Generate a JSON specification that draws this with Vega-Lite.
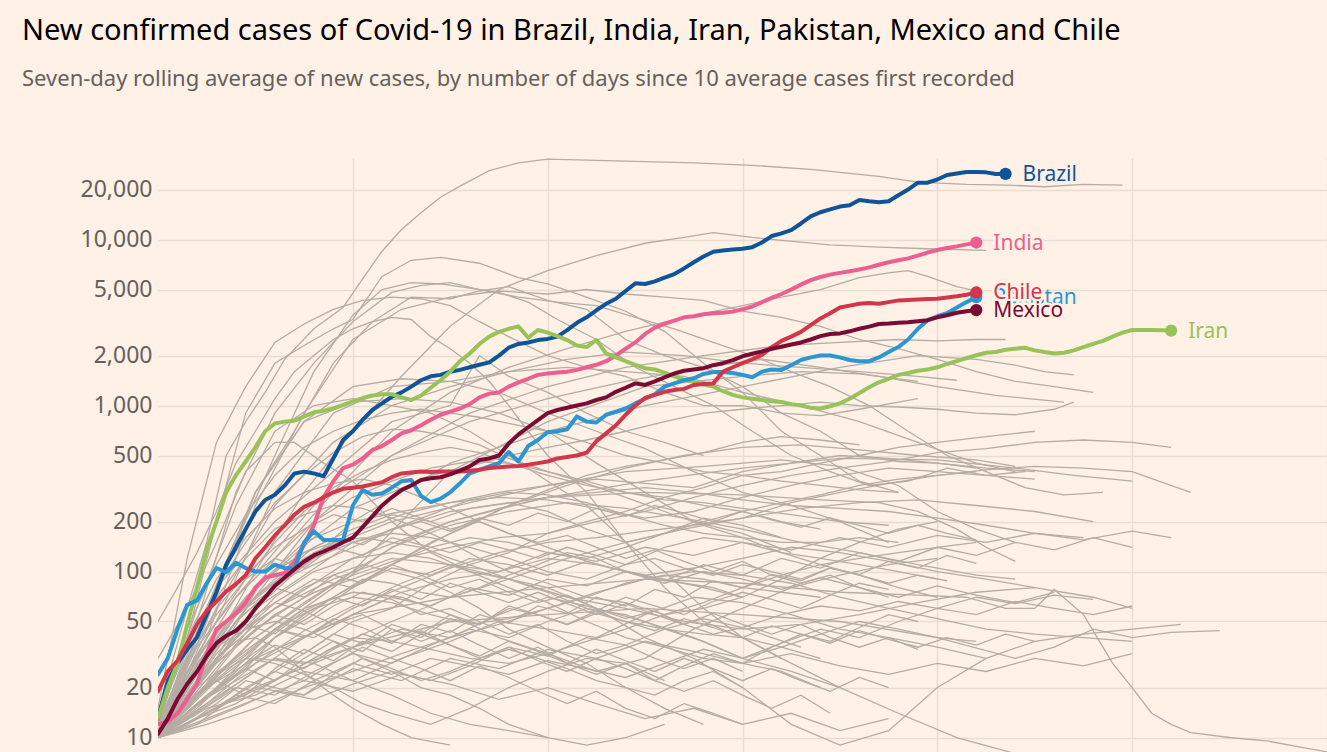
{
"$schema": "https://vega.github.io/schema/vega-lite/v6.json",
"width": 1169, "height": 594,
"autosize": {"type": "none"},
"padding": {"left": 158, "top": 158, "right": 0, "bottom": 0},
"background": "#fff1e5",
"title": {"text": "New confirmed cases of Covid-19 in Brazil, India, Iran, Pakistan, Mexico and Chile", "subtitle": "Seven-day rolling average of new cases, by number of days since 10 average cases first recorded", "anchor": "start", "frame": "group", "dx": -136, "offset": 68, "font": "Noto Sans", "fontSize": 29, "fontWeight": "normal", "color": "#000000", "subtitleFont": "Noto Sans", "subtitleFontSize": 22, "subtitleColor": "#66605c", "subtitlePadding": 23},
"config": {"view": {"stroke": null}, "axisY": {"domain": false, "ticks": false, "labelFont": "Noto Sans", "labelFontSize": 23, "labelColor": "#66605c", "labelPadding": 6, "gridColor": "#e9ddd1", "gridWidth": 1.5, "labelOverlap": false}, "axisX": {"domain": false, "ticks": false, "labels": false, "gridColor": "#e9ddd1", "gridWidth": 1.5}},
"data": {"values": [
{"c":"Brazil","d":0,"v":13},{"c":"Brazil","d":1,"v":22},{"c":"Brazil","d":2,"v":28},{"c":"Brazil","d":3,"v":34},{"c":"Brazil","d":4,"v":40},{"c":"Brazil","d":5,"v":55},{"c":"Brazil","d":6,"v":75},{"c":"Brazil","d":7,"v":110},{"c":"Brazil","d":8,"v":140},{"c":"Brazil","d":9,"v":180},{"c":"Brazil","d":10,"v":230},{"c":"Brazil","d":11,"v":270},{"c":"Brazil","d":12,"v":290},{"c":"Brazil","d":13,"v":330},{"c":"Brazil","d":14,"v":390},{"c":"Brazil","d":15,"v":400},{"c":"Brazil","d":16,"v":390},{"c":"Brazil","d":17,"v":375},{"c":"Brazil","d":18,"v":480},{"c":"Brazil","d":19,"v":620},{"c":"Brazil","d":20,"v":700},{"c":"Brazil","d":21,"v":820},{"c":"Brazil","d":22,"v":940},{"c":"Brazil","d":23,"v":1030},{"c":"Brazil","d":24,"v":1130},{"c":"Brazil","d":25,"v":1200},{"c":"Brazil","d":26,"v":1300},{"c":"Brazil","d":27,"v":1420},{"c":"Brazil","d":28,"v":1500},{"c":"Brazil","d":29,"v":1530},{"c":"Brazil","d":30,"v":1600},{"c":"Brazil","d":31,"v":1640},{"c":"Brazil","d":32,"v":1700},{"c":"Brazil","d":33,"v":1760},{"c":"Brazil","d":34,"v":1820},{"c":"Brazil","d":35,"v":2000},{"c":"Brazil","d":36,"v":2230},{"c":"Brazil","d":37,"v":2350},{"c":"Brazil","d":38,"v":2400},{"c":"Brazil","d":39,"v":2480},{"c":"Brazil","d":40,"v":2520},{"c":"Brazil","d":41,"v":2600},{"c":"Brazil","d":42,"v":2850},{"c":"Brazil","d":43,"v":3150},{"c":"Brazil","d":44,"v":3400},{"c":"Brazil","d":45,"v":3750},{"c":"Brazil","d":46,"v":4100},{"c":"Brazil","d":47,"v":4400},{"c":"Brazil","d":48,"v":4900},{"c":"Brazil","d":49,"v":5450},{"c":"Brazil","d":50,"v":5400},{"c":"Brazil","d":51,"v":5600},{"c":"Brazil","d":52,"v":5900},{"c":"Brazil","d":53,"v":6200},{"c":"Brazil","d":54,"v":6700},{"c":"Brazil","d":55,"v":7300},{"c":"Brazil","d":56,"v":7900},{"c":"Brazil","d":57,"v":8450},{"c":"Brazil","d":58,"v":8600},{"c":"Brazil","d":59,"v":8700},{"c":"Brazil","d":60,"v":8800},{"c":"Brazil","d":61,"v":9000},{"c":"Brazil","d":62,"v":9600},{"c":"Brazil","d":63,"v":10500},{"c":"Brazil","d":64,"v":10900},{"c":"Brazil","d":65,"v":11400},{"c":"Brazil","d":66,"v":12500},{"c":"Brazil","d":67,"v":13800},{"c":"Brazil","d":68,"v":14600},{"c":"Brazil","d":69,"v":15200},{"c":"Brazil","d":70,"v":15800},{"c":"Brazil","d":71,"v":16100},{"c":"Brazil","d":72,"v":17300},{"c":"Brazil","d":73,"v":17000},{"c":"Brazil","d":74,"v":16800},{"c":"Brazil","d":75,"v":17000},{"c":"Brazil","d":76,"v":18500},{"c":"Brazil","d":77,"v":20000},{"c":"Brazil","d":78,"v":22000},{"c":"Brazil","d":79,"v":22000},{"c":"Brazil","d":80,"v":23000},{"c":"Brazil","d":81,"v":24500},{"c":"Brazil","d":82,"v":25000},{"c":"Brazil","d":83,"v":25500},{"c":"Brazil","d":84,"v":25500},{"c":"Brazil","d":85,"v":25400},{"c":"Brazil","d":86,"v":24800},{"c":"Brazil","d":87,"v":24900},
{"c":"India","d":0,"v":12},{"c":"India","d":1,"v":12.5},{"c":"India","d":2,"v":14},{"c":"India","d":3,"v":17},{"c":"India","d":4,"v":21},{"c":"India","d":5,"v":32},{"c":"India","d":6,"v":45},{"c":"India","d":7,"v":50},{"c":"India","d":8,"v":56},{"c":"India","d":9,"v":65},{"c":"India","d":10,"v":80},{"c":"India","d":11,"v":92},{"c":"India","d":12,"v":95},{"c":"India","d":13,"v":98},{"c":"India","d":14,"v":115},{"c":"India","d":15,"v":145},{"c":"India","d":16,"v":190},{"c":"India","d":17,"v":280},{"c":"India","d":18,"v":350},{"c":"India","d":19,"v":420},{"c":"India","d":20,"v":440},{"c":"India","d":21,"v":480},{"c":"India","d":22,"v":540},{"c":"India","d":23,"v":570},{"c":"India","d":24,"v":620},{"c":"India","d":25,"v":680},{"c":"India","d":26,"v":710},{"c":"India","d":27,"v":760},{"c":"India","d":28,"v":820},{"c":"India","d":29,"v":880},{"c":"India","d":30,"v":920},{"c":"India","d":31,"v":960},{"c":"India","d":32,"v":1020},{"c":"India","d":33,"v":1120},{"c":"India","d":34,"v":1180},{"c":"India","d":35,"v":1200},{"c":"India","d":36,"v":1300},{"c":"India","d":37,"v":1380},{"c":"India","d":38,"v":1450},{"c":"India","d":39,"v":1530},{"c":"India","d":40,"v":1560},{"c":"India","d":41,"v":1580},{"c":"India","d":42,"v":1600},{"c":"India","d":43,"v":1640},{"c":"India","d":44,"v":1700},{"c":"India","d":45,"v":1760},{"c":"India","d":46,"v":1850},{"c":"India","d":47,"v":2000},{"c":"India","d":48,"v":2200},{"c":"India","d":49,"v":2400},{"c":"India","d":50,"v":2700},{"c":"India","d":51,"v":2950},{"c":"India","d":52,"v":3100},{"c":"India","d":53,"v":3250},{"c":"India","d":54,"v":3400},{"c":"India","d":55,"v":3450},{"c":"India","d":56,"v":3550},{"c":"India","d":57,"v":3600},{"c":"India","d":58,"v":3620},{"c":"India","d":59,"v":3680},{"c":"India","d":60,"v":3800},{"c":"India","d":61,"v":3950},{"c":"India","d":62,"v":4200},{"c":"India","d":63,"v":4450},{"c":"India","d":64,"v":4700},{"c":"India","d":65,"v":5000},{"c":"India","d":66,"v":5350},{"c":"India","d":67,"v":5700},{"c":"India","d":68,"v":5950},{"c":"India","d":69,"v":6150},{"c":"India","d":70,"v":6300},{"c":"India","d":71,"v":6450},{"c":"India","d":72,"v":6600},{"c":"India","d":73,"v":6800},{"c":"India","d":74,"v":7050},{"c":"India","d":75,"v":7300},{"c":"India","d":76,"v":7500},{"c":"India","d":77,"v":7700},{"c":"India","d":78,"v":8000},{"c":"India","d":79,"v":8350},{"c":"India","d":80,"v":8650},{"c":"India","d":81,"v":8900},{"c":"India","d":82,"v":9100},{"c":"India","d":83,"v":9350},{"c":"India","d":84,"v":9600},
{"c":"Iran","d":0,"v":13},{"c":"Iran","d":1,"v":20},{"c":"Iran","d":2,"v":28},{"c":"Iran","d":3,"v":48},{"c":"Iran","d":4,"v":80},{"c":"Iran","d":5,"v":135},{"c":"Iran","d":6,"v":200},{"c":"Iran","d":7,"v":300},{"c":"Iran","d":8,"v":380},{"c":"Iran","d":9,"v":460},{"c":"Iran","d":10,"v":560},{"c":"Iran","d":11,"v":700},{"c":"Iran","d":12,"v":780},{"c":"Iran","d":13,"v":800},{"c":"Iran","d":14,"v":810},{"c":"Iran","d":15,"v":860},{"c":"Iran","d":16,"v":910},{"c":"Iran","d":17,"v":930},{"c":"Iran","d":18,"v":960},{"c":"Iran","d":19,"v":1010},{"c":"Iran","d":20,"v":1060},{"c":"Iran","d":21,"v":1110},{"c":"Iran","d":22,"v":1150},{"c":"Iran","d":23,"v":1170},{"c":"Iran","d":24,"v":1170},{"c":"Iran","d":25,"v":1120},{"c":"Iran","d":26,"v":1080},{"c":"Iran","d":27,"v":1150},{"c":"Iran","d":28,"v":1280},{"c":"Iran","d":29,"v":1420},{"c":"Iran","d":30,"v":1600},{"c":"Iran","d":31,"v":1850},{"c":"Iran","d":32,"v":2060},{"c":"Iran","d":33,"v":2350},{"c":"Iran","d":34,"v":2600},{"c":"Iran","d":35,"v":2780},{"c":"Iran","d":36,"v":2900},{"c":"Iran","d":37,"v":3000},{"c":"Iran","d":38,"v":2560},{"c":"Iran","d":39,"v":2850},{"c":"Iran","d":40,"v":2750},{"c":"Iran","d":41,"v":2620},{"c":"Iran","d":42,"v":2480},{"c":"Iran","d":43,"v":2300},{"c":"Iran","d":44,"v":2250},{"c":"Iran","d":45,"v":2480},{"c":"Iran","d":46,"v":2060},{"c":"Iran","d":47,"v":1950},{"c":"Iran","d":48,"v":1850},{"c":"Iran","d":49,"v":1760},{"c":"Iran","d":50,"v":1680},{"c":"Iran","d":51,"v":1650},{"c":"Iran","d":52,"v":1580},{"c":"Iran","d":53,"v":1500},{"c":"Iran","d":54,"v":1430},{"c":"Iran","d":55,"v":1390},{"c":"Iran","d":56,"v":1340},{"c":"Iran","d":57,"v":1300},{"c":"Iran","d":58,"v":1220},{"c":"Iran","d":59,"v":1160},{"c":"Iran","d":60,"v":1120},{"c":"Iran","d":61,"v":1100},{"c":"Iran","d":62,"v":1080},{"c":"Iran","d":63,"v":1060},{"c":"Iran","d":64,"v":1050},{"c":"Iran","d":65,"v":1020},{"c":"Iran","d":66,"v":1000},{"c":"Iran","d":67,"v":970},{"c":"Iran","d":68,"v":960},{"c":"Iran","d":69,"v":990},{"c":"Iran","d":70,"v":1030},{"c":"Iran","d":71,"v":1100},{"c":"Iran","d":72,"v":1190},{"c":"Iran","d":73,"v":1290},{"c":"Iran","d":74,"v":1380},{"c":"Iran","d":75,"v":1450},{"c":"Iran","d":76,"v":1530},{"c":"Iran","d":77,"v":1570},{"c":"Iran","d":78,"v":1620},{"c":"Iran","d":79,"v":1650},{"c":"Iran","d":80,"v":1700},{"c":"Iran","d":81,"v":1780},{"c":"Iran","d":82,"v":1850},{"c":"Iran","d":83,"v":1930},{"c":"Iran","d":84,"v":2010},{"c":"Iran","d":85,"v":2080},{"c":"Iran","d":86,"v":2100},{"c":"Iran","d":87,"v":2170},{"c":"Iran","d":88,"v":2200},{"c":"Iran","d":89,"v":2230},{"c":"Iran","d":90,"v":2150},{"c":"Iran","d":91,"v":2100},{"c":"Iran","d":92,"v":2060},{"c":"Iran","d":93,"v":2080},{"c":"Iran","d":94,"v":2150},{"c":"Iran","d":95,"v":2250},{"c":"Iran","d":96,"v":2350},{"c":"Iran","d":97,"v":2450},{"c":"Iran","d":98,"v":2600},{"c":"Iran","d":99,"v":2750},{"c":"Iran","d":100,"v":2850},{"c":"Iran","d":101,"v":2850},{"c":"Iran","d":102,"v":2850},{"c":"Iran","d":103,"v":2840},{"c":"Iran","d":104,"v":2830},
{"c":"Pakistan","d":0,"v":24},{"c":"Pakistan","d":1,"v":30},{"c":"Pakistan","d":2,"v":45},{"c":"Pakistan","d":3,"v":63},{"c":"Pakistan","d":4,"v":67},{"c":"Pakistan","d":5,"v":85},{"c":"Pakistan","d":6,"v":105},{"c":"Pakistan","d":7,"v":99},{"c":"Pakistan","d":8,"v":113},{"c":"Pakistan","d":9,"v":105},{"c":"Pakistan","d":10,"v":100},{"c":"Pakistan","d":11,"v":100},{"c":"Pakistan","d":12,"v":110},{"c":"Pakistan","d":13,"v":105},{"c":"Pakistan","d":14,"v":104},{"c":"Pakistan","d":15,"v":150},{"c":"Pakistan","d":16,"v":175},{"c":"Pakistan","d":17,"v":155},{"c":"Pakistan","d":18,"v":155},{"c":"Pakistan","d":19,"v":155},{"c":"Pakistan","d":20,"v":250},{"c":"Pakistan","d":21,"v":310},{"c":"Pakistan","d":22,"v":290},{"c":"Pakistan","d":23,"v":295},{"c":"Pakistan","d":24,"v":320},{"c":"Pakistan","d":25,"v":350},{"c":"Pakistan","d":26,"v":356},{"c":"Pakistan","d":27,"v":285},{"c":"Pakistan","d":28,"v":262},{"c":"Pakistan","d":29,"v":275},{"c":"Pakistan","d":30,"v":300},{"c":"Pakistan","d":31,"v":340},{"c":"Pakistan","d":32,"v":390},{"c":"Pakistan","d":33,"v":410},{"c":"Pakistan","d":34,"v":430},{"c":"Pakistan","d":35,"v":450},{"c":"Pakistan","d":36,"v":525},{"c":"Pakistan","d":37,"v":460},{"c":"Pakistan","d":38,"v":570},{"c":"Pakistan","d":39,"v":620},{"c":"Pakistan","d":40,"v":690},{"c":"Pakistan","d":41,"v":700},{"c":"Pakistan","d":42,"v":720},{"c":"Pakistan","d":43,"v":860},{"c":"Pakistan","d":44,"v":800},{"c":"Pakistan","d":45,"v":790},{"c":"Pakistan","d":46,"v":880},{"c":"Pakistan","d":47,"v":920},{"c":"Pakistan","d":48,"v":960},{"c":"Pakistan","d":49,"v":1030},{"c":"Pakistan","d":50,"v":1100},{"c":"Pakistan","d":51,"v":1170},{"c":"Pakistan","d":52,"v":1300},{"c":"Pakistan","d":53,"v":1360},{"c":"Pakistan","d":54,"v":1420},{"c":"Pakistan","d":55,"v":1460},{"c":"Pakistan","d":56,"v":1550},{"c":"Pakistan","d":57,"v":1590},{"c":"Pakistan","d":58,"v":1590},{"c":"Pakistan","d":59,"v":1570},{"c":"Pakistan","d":60,"v":1530},{"c":"Pakistan","d":61,"v":1480},{"c":"Pakistan","d":62,"v":1600},{"c":"Pakistan","d":63,"v":1650},{"c":"Pakistan","d":64,"v":1640},{"c":"Pakistan","d":65,"v":1750},{"c":"Pakistan","d":66,"v":1880},{"c":"Pakistan","d":67,"v":1950},{"c":"Pakistan","d":68,"v":2000},{"c":"Pakistan","d":69,"v":2000},{"c":"Pakistan","d":70,"v":1950},{"c":"Pakistan","d":71,"v":1880},{"c":"Pakistan","d":72,"v":1850},{"c":"Pakistan","d":73,"v":1850},{"c":"Pakistan","d":74,"v":1950},{"c":"Pakistan","d":75,"v":2100},{"c":"Pakistan","d":76,"v":2250},{"c":"Pakistan","d":77,"v":2500},{"c":"Pakistan","d":78,"v":2900},{"c":"Pakistan","d":79,"v":3270},{"c":"Pakistan","d":80,"v":3450},{"c":"Pakistan","d":81,"v":3600},{"c":"Pakistan","d":82,"v":3900},{"c":"Pakistan","d":83,"v":4200},{"c":"Pakistan","d":84,"v":4500},
{"c":"Chile","d":0,"v":19},{"c":"Chile","d":1,"v":25},{"c":"Chile","d":2,"v":29},{"c":"Chile","d":3,"v":37},{"c":"Chile","d":4,"v":48},{"c":"Chile","d":5,"v":58},{"c":"Chile","d":6,"v":66},{"c":"Chile","d":7,"v":76},{"c":"Chile","d":8,"v":84},{"c":"Chile","d":9,"v":95},{"c":"Chile","d":10,"v":120},{"c":"Chile","d":11,"v":140},{"c":"Chile","d":12,"v":165},{"c":"Chile","d":13,"v":190},{"c":"Chile","d":14,"v":220},{"c":"Chile","d":15,"v":245},{"c":"Chile","d":16,"v":260},{"c":"Chile","d":17,"v":280},{"c":"Chile","d":18,"v":300},{"c":"Chile","d":19,"v":315},{"c":"Chile","d":20,"v":320},{"c":"Chile","d":21,"v":325},{"c":"Chile","d":22,"v":335},{"c":"Chile","d":23,"v":345},{"c":"Chile","d":24,"v":370},{"c":"Chile","d":25,"v":390},{"c":"Chile","d":26,"v":395},{"c":"Chile","d":27,"v":400},{"c":"Chile","d":28,"v":398},{"c":"Chile","d":29,"v":400},{"c":"Chile","d":30,"v":400},{"c":"Chile","d":31,"v":400},{"c":"Chile","d":32,"v":405},{"c":"Chile","d":33,"v":410},{"c":"Chile","d":34,"v":420},{"c":"Chile","d":35,"v":425},{"c":"Chile","d":36,"v":430},{"c":"Chile","d":37,"v":432},{"c":"Chile","d":38,"v":440},{"c":"Chile","d":39,"v":450},{"c":"Chile","d":40,"v":460},{"c":"Chile","d":41,"v":480},{"c":"Chile","d":42,"v":490},{"c":"Chile","d":43,"v":500},{"c":"Chile","d":44,"v":520},{"c":"Chile","d":45,"v":610},{"c":"Chile","d":46,"v":680},{"c":"Chile","d":47,"v":760},{"c":"Chile","d":48,"v":880},{"c":"Chile","d":49,"v":1000},{"c":"Chile","d":50,"v":1110},{"c":"Chile","d":51,"v":1160},{"c":"Chile","d":52,"v":1210},{"c":"Chile","d":53,"v":1240},{"c":"Chile","d":54,"v":1260},{"c":"Chile","d":55,"v":1330},{"c":"Chile","d":56,"v":1350},{"c":"Chile","d":57,"v":1360},{"c":"Chile","d":58,"v":1600},{"c":"Chile","d":59,"v":1700},{"c":"Chile","d":60,"v":1800},{"c":"Chile","d":61,"v":1900},{"c":"Chile","d":62,"v":2020},{"c":"Chile","d":63,"v":2250},{"c":"Chile","d":64,"v":2450},{"c":"Chile","d":65,"v":2600},{"c":"Chile","d":66,"v":2780},{"c":"Chile","d":67,"v":3050},{"c":"Chile","d":68,"v":3350},{"c":"Chile","d":69,"v":3600},{"c":"Chile","d":70,"v":3900},{"c":"Chile","d":71,"v":4000},{"c":"Chile","d":72,"v":4100},{"c":"Chile","d":73,"v":4150},{"c":"Chile","d":74,"v":4100},{"c":"Chile","d":75,"v":4200},{"c":"Chile","d":76,"v":4300},{"c":"Chile","d":77,"v":4330},{"c":"Chile","d":78,"v":4350},{"c":"Chile","d":79,"v":4380},{"c":"Chile","d":80,"v":4400},{"c":"Chile","d":81,"v":4480},{"c":"Chile","d":82,"v":4550},{"c":"Chile","d":83,"v":4650},{"c":"Chile","d":84,"v":4800},
{"c":"Mexico","d":0,"v":10.5},{"c":"Mexico","d":1,"v":13},{"c":"Mexico","d":2,"v":17},{"c":"Mexico","d":3,"v":21},{"c":"Mexico","d":4,"v":25},{"c":"Mexico","d":5,"v":31},{"c":"Mexico","d":6,"v":37},{"c":"Mexico","d":7,"v":41},{"c":"Mexico","d":8,"v":44},{"c":"Mexico","d":9,"v":50},{"c":"Mexico","d":10,"v":60},{"c":"Mexico","d":11,"v":70},{"c":"Mexico","d":12,"v":82},{"c":"Mexico","d":13,"v":92},{"c":"Mexico","d":14,"v":103},{"c":"Mexico","d":15,"v":115},{"c":"Mexico","d":16,"v":125},{"c":"Mexico","d":17,"v":132},{"c":"Mexico","d":18,"v":140},{"c":"Mexico","d":19,"v":150},{"c":"Mexico","d":20,"v":160},{"c":"Mexico","d":21,"v":185},{"c":"Mexico","d":22,"v":215},{"c":"Mexico","d":23,"v":250},{"c":"Mexico","d":24,"v":280},{"c":"Mexico","d":25,"v":310},{"c":"Mexico","d":26,"v":330},{"c":"Mexico","d":27,"v":356},{"c":"Mexico","d":28,"v":365},{"c":"Mexico","d":29,"v":370},{"c":"Mexico","d":30,"v":385},{"c":"Mexico","d":31,"v":405},{"c":"Mexico","d":32,"v":430},{"c":"Mexico","d":33,"v":470},{"c":"Mexico","d":34,"v":480},{"c":"Mexico","d":35,"v":500},{"c":"Mexico","d":36,"v":590},{"c":"Mexico","d":37,"v":670},{"c":"Mexico","d":38,"v":740},{"c":"Mexico","d":39,"v":818},{"c":"Mexico","d":40,"v":900},{"c":"Mexico","d":41,"v":940},{"c":"Mexico","d":42,"v":970},{"c":"Mexico","d":43,"v":1000},{"c":"Mexico","d":44,"v":1030},{"c":"Mexico","d":45,"v":1080},{"c":"Mexico","d":46,"v":1120},{"c":"Mexico","d":47,"v":1210},{"c":"Mexico","d":48,"v":1280},{"c":"Mexico","d":49,"v":1360},{"c":"Mexico","d":50,"v":1330},{"c":"Mexico","d":51,"v":1400},{"c":"Mexico","d":52,"v":1480},{"c":"Mexico","d":53,"v":1560},{"c":"Mexico","d":54,"v":1620},{"c":"Mexico","d":55,"v":1650},{"c":"Mexico","d":56,"v":1680},{"c":"Mexico","d":57,"v":1750},{"c":"Mexico","d":58,"v":1800},{"c":"Mexico","d":59,"v":1880},{"c":"Mexico","d":60,"v":1980},{"c":"Mexico","d":61,"v":2050},{"c":"Mexico","d":62,"v":2120},{"c":"Mexico","d":63,"v":2200},{"c":"Mexico","d":64,"v":2260},{"c":"Mexico","d":65,"v":2330},{"c":"Mexico","d":66,"v":2400},{"c":"Mexico","d":67,"v":2500},{"c":"Mexico","d":68,"v":2620},{"c":"Mexico","d":69,"v":2700},{"c":"Mexico","d":70,"v":2720},{"c":"Mexico","d":71,"v":2800},{"c":"Mexico","d":72,"v":2900},{"c":"Mexico","d":73,"v":2990},{"c":"Mexico","d":74,"v":3100},{"c":"Mexico","d":75,"v":3120},{"c":"Mexico","d":76,"v":3150},{"c":"Mexico","d":77,"v":3180},{"c":"Mexico","d":78,"v":3220},{"c":"Mexico","d":79,"v":3270},{"c":"Mexico","d":80,"v":3400},{"c":"Mexico","d":81,"v":3500},{"c":"Mexico","d":82,"v":3620},{"c":"Mexico","d":83,"v":3700},{"c":"Mexico","d":84,"v":3760},
{"c":"g1","d":0,"v":14},{"c":"g1","d":3,"v":60},{"c":"g1","d":5,"v":150},{"c":"g1","d":7,"v":500},{"c":"g1","d":9,"v":800},{"c":"g1","d":11,"v":1200},{"c":"g1","d":13,"v":1900},{"c":"g1","d":16,"v":2900},{"c":"g1","d":19,"v":3900},{"c":"g1","d":21,"v":5800},{"c":"g1","d":23,"v":8500},{"c":"g1","d":25,"v":11500},{"c":"g1","d":27,"v":14500},{"c":"g1","d":29,"v":18000},{"c":"g1","d":31,"v":21000},{"c":"g1","d":34,"v":26000},{"c":"g1","d":37,"v":29000},{"c":"g1","d":40,"v":30500},{"c":"g1","d":45,"v":30000},{"c":"g1","d":50,"v":29500},{"c":"g1","d":55,"v":29000},{"c":"g1","d":61,"v":28000},{"c":"g1","d":67,"v":26500},{"c":"g1","d":74,"v":24000},{"c":"g1","d":78,"v":22200},{"c":"g1","d":83,"v":21500},{"c":"g1","d":87,"v":21300},{"c":"g1","d":91,"v":20800},{"c":"g1","d":95,"v":21500},{"c":"g1","d":99,"v":21300},
{"c":"g2","d":0,"v":12},{"c":"g2","d":3,"v":40},{"c":"g2","d":6,"v":200},{"c":"g2","d":9,"v":900},{"c":"g2","d":12,"v":1800},{"c":"g2","d":15,"v":2300},{"c":"g2","d":18,"v":2900},{"c":"g2","d":20,"v":3300},{"c":"g2","d":23,"v":6000},{"c":"g2","d":26,"v":7500},{"c":"g2","d":29,"v":7800},{"c":"g2","d":33,"v":7200},{"c":"g2","d":37,"v":5900},{"c":"g2","d":40,"v":5400},{"c":"g2","d":44,"v":4500},{"c":"g2","d":48,"v":3700},{"c":"g2","d":52,"v":2800},{"c":"g2","d":56,"v":1800},{"c":"g2","d":60,"v":1200},{"c":"g2","d":64,"v":700},{"c":"g2","d":68,"v":500},{"c":"g2","d":72,"v":350},{"c":"g2","d":76,"v":300},
{"c":"g3","d":0,"v":11},{"c":"g3","d":4,"v":50},{"c":"g3","d":8,"v":300},{"c":"g3","d":12,"v":900},{"c":"g3","d":16,"v":1800},{"c":"g3","d":20,"v":3200},{"c":"g3","d":24,"v":4800},{"c":"g3","d":27,"v":5300},{"c":"g3","d":30,"v":5500},{"c":"g3","d":33,"v":5000},{"c":"g3","d":37,"v":4500},{"c":"g3","d":41,"v":4200},{"c":"g3","d":45,"v":4000},{"c":"g3","d":49,"v":3400},{"c":"g3","d":53,"v":2900},{"c":"g3","d":57,"v":2400},{"c":"g3","d":61,"v":2000},{"c":"g3","d":65,"v":1600},{"c":"g3","d":69,"v":1300},{"c":"g3","d":73,"v":1000},{"c":"g3","d":77,"v":700},{"c":"g3","d":81,"v":500},{"c":"g3","d":85,"v":400},{"c":"g3","d":89,"v":320},{"c":"g3","d":93,"v":290},{"c":"g3","d":97,"v":300},
{"c":"g4","d":0,"v":10},{"c":"g4","d":4,"v":40},{"c":"g4","d":8,"v":150},{"c":"g4","d":12,"v":500},{"c":"g4","d":16,"v":1600},{"c":"g4","d":20,"v":3500},{"c":"g4","d":23,"v":5000},{"c":"g4","d":26,"v":5500},{"c":"g4","d":29,"v":5400},{"c":"g4","d":32,"v":5100},{"c":"g4","d":35,"v":4800},{"c":"g4","d":38,"v":4200},{"c":"g4","d":41,"v":3300},{"c":"g4","d":45,"v":2500},{"c":"g4","d":49,"v":1700},{"c":"g4","d":53,"v":1300},{"c":"g4","d":57,"v":1000},{"c":"g4","d":61,"v":700},{"c":"g4","d":65,"v":500},{"c":"g4","d":69,"v":400},{"c":"g4","d":73,"v":330},{"c":"g4","d":77,"v":350},{"c":"g4","d":81,"v":420},{"c":"g4","d":85,"v":380},{"c":"g4","d":89,"v":400},
{"c":"g5","d":0,"v":12},{"c":"g5","d":5,"v":60},{"c":"g5","d":10,"v":300},{"c":"g5","d":14,"v":700},{"c":"g5","d":18,"v":1800},{"c":"g5","d":22,"v":3200},{"c":"g5","d":26,"v":4500},{"c":"g5","d":30,"v":4400},{"c":"g5","d":33,"v":4900},{"c":"g5","d":36,"v":5200},{"c":"g5","d":40,"v":4300},{"c":"g5","d":44,"v":3800},{"c":"g5","d":48,"v":2500},{"c":"g5","d":52,"v":2000},{"c":"g5","d":56,"v":1700},{"c":"g5","d":60,"v":1300},{"c":"g5","d":64,"v":900},{"c":"g5","d":68,"v":700},{"c":"g5","d":72,"v":500},{"c":"g5","d":76,"v":460},{"c":"g5","d":80,"v":450},{"c":"g5","d":84,"v":420},
{"c":"g6","d":0,"v":10},{"c":"g6","d":5,"v":40},{"c":"g6","d":10,"v":250},{"c":"g6","d":15,"v":900},{"c":"g6","d":20,"v":2500},{"c":"g6","d":25,"v":3800},{"c":"g6","d":30,"v":4500},{"c":"g6","d":35,"v":4900},{"c":"g6","d":40,"v":4700},{"c":"g6","d":44,"v":5000},{"c":"g6","d":48,"v":4700},{"c":"g6","d":52,"v":4500},{"c":"g6","d":56,"v":4300},{"c":"g6","d":60,"v":3700},{"c":"g6","d":64,"v":3400},{"c":"g6","d":68,"v":3000},{"c":"g6","d":72,"v":2500},{"c":"g6","d":76,"v":2200},{"c":"g6","d":80,"v":1900},{"c":"g6","d":84,"v":1600},{"c":"g6","d":88,"v":1400},{"c":"g6","d":92,"v":1300},{"c":"g6","d":96,"v":1200},
{"c":"g7","d":0,"v":15},{"c":"g7","d":3,"v":120},{"c":"g7","d":6,"v":600},{"c":"g7","d":9,"v":1300},{"c":"g7","d":12,"v":2400},{"c":"g7","d":15,"v":3100},{"c":"g7","d":18,"v":3800},{"c":"g7","d":21,"v":4300},{"c":"g7","d":24,"v":4500},{"c":"g7","d":27,"v":4400},{"c":"g7","d":30,"v":4000},{"c":"g7","d":33,"v":3200},{"c":"g7","d":36,"v":2600},{"c":"g7","d":40,"v":2000},{"c":"g7","d":44,"v":1700},{"c":"g7","d":48,"v":1500},{"c":"g7","d":52,"v":1200},{"c":"g7","d":56,"v":1000},{"c":"g7","d":60,"v":1000},{"c":"g7","d":64,"v":900},{"c":"g7","d":68,"v":870},{"c":"g7","d":72,"v":950},{"c":"g7","d":76,"v":1050},{"c":"g7","d":78,"v":1100},
{"c":"g8","d":0,"v":10},{"c":"g8","d":5,"v":30},{"c":"g8","d":10,"v":100},{"c":"g8","d":15,"v":300},{"c":"g8","d":20,"v":700},{"c":"g8","d":25,"v":1500},{"c":"g8","d":30,"v":3000},{"c":"g8","d":35,"v":5000},{"c":"g8","d":40,"v":6500},{"c":"g8","d":45,"v":8000},{"c":"g8","d":50,"v":9500},{"c":"g8","d":54,"v":10300},{"c":"g8","d":57,"v":11000},{"c":"g8","d":61,"v":10300},{"c":"g8","d":64,"v":9900},{"c":"g8","d":69,"v":9300},{"c":"g8","d":74,"v":9000},{"c":"g8","d":79,"v":8800},{"c":"g8","d":85,"v":8600},
{"c":"g9","d":0,"v":10},{"c":"g9","d":6,"v":30},{"c":"g9","d":12,"v":120},{"c":"g9","d":18,"v":300},{"c":"g9","d":24,"v":700},{"c":"g9","d":30,"v":1200},{"c":"g9","d":36,"v":1700},{"c":"g9","d":42,"v":2200},{"c":"g9","d":48,"v":2800},{"c":"g9","d":54,"v":3400},{"c":"g9","d":60,"v":4000},{"c":"g9","d":64,"v":4500},{"c":"g9","d":68,"v":5000},{"c":"g9","d":72,"v":5900},{"c":"g9","d":75,"v":6300},{"c":"g9","d":77,"v":6500},{"c":"g9","d":79,"v":6000},{"c":"g9","d":82,"v":5200},{"c":"g9","d":84,"v":4900},
{"c":"g10","d":0,"v":12},{"c":"g10","d":6,"v":50},{"c":"g10","d":12,"v":300},{"c":"g10","d":18,"v":900},{"c":"g10","d":24,"v":1300},{"c":"g10","d":30,"v":1400},{"c":"g10","d":36,"v":1600},{"c":"g10","d":42,"v":1700},{"c":"g10","d":48,"v":1600},{"c":"g10","d":54,"v":1500},{"c":"g10","d":60,"v":1200},{"c":"g10","d":66,"v":1000},{"c":"g10","d":72,"v":800},{"c":"g10","d":78,"v":600},{"c":"g10","d":84,"v":450},{"c":"g10","d":88,"v":400},
{"c":"g11","d":0,"v":10},{"c":"g11","d":5,"v":60},{"c":"g11","d":10,"v":300},{"c":"g11","d":15,"v":800},{"c":"g11","d":20,"v":1300},{"c":"g11","d":25,"v":1450},{"c":"g11","d":30,"v":1400},{"c":"g11","d":35,"v":1200},{"c":"g11","d":40,"v":900},{"c":"g11","d":45,"v":700},{"c":"g11","d":50,"v":550},{"c":"g11","d":55,"v":400},{"c":"g11","d":60,"v":300},{"c":"g11","d":65,"v":250},{"c":"g11","d":70,"v":200},{"c":"g11","d":75,"v":150},
{"c":"g12","d":0,"v":10},{"c":"g12","d":5,"v":50},{"c":"g12","d":10,"v":300},{"c":"g12","d":15,"v":800},{"c":"g12","d":20,"v":1050},{"c":"g12","d":25,"v":1100},{"c":"g12","d":30,"v":1050},{"c":"g12","d":35,"v":900},{"c":"g12","d":40,"v":700},{"c":"g12","d":45,"v":450},{"c":"g12","d":50,"v":300},{"c":"g12","d":55,"v":200},{"c":"g12","d":60,"v":170},{"c":"g12","d":65,"v":130},
{"c":"g13","d":0,"v":12},{"c":"g13","d":4,"v":60},{"c":"g13","d":8,"v":250},{"c":"g13","d":12,"v":700},{"c":"g13","d":16,"v":1000},{"c":"g13","d":20,"v":1100},{"c":"g13","d":24,"v":1000},{"c":"g13","d":28,"v":900},{"c":"g13","d":32,"v":700},{"c":"g13","d":36,"v":500},{"c":"g13","d":40,"v":350},{"c":"g13","d":44,"v":250},{"c":"g13","d":48,"v":150},{"c":"g13","d":52,"v":100},{"c":"g13","d":56,"v":60},{"c":"g13","d":60,"v":40},{"c":"g13","d":64,"v":30},
{"c":"g14","d":0,"v":10},{"c":"g14","d":6,"v":80},{"c":"g14","d":12,"v":200},{"c":"g14","d":18,"v":400},{"c":"g14","d":24,"v":800},{"c":"g14","d":30,"v":1000},{"c":"g14","d":33,"v":2000},{"c":"g14","d":36,"v":1500},{"c":"g14","d":40,"v":1200},{"c":"g14","d":44,"v":900},{"c":"g14","d":48,"v":700},{"c":"g14","d":52,"v":600},{"c":"g14","d":56,"v":500},
{"c":"g15","d":0,"v":50},{"c":"g15","d":2,"v":80},{"c":"g15","d":4,"v":130},{"c":"g15","d":6,"v":230},{"c":"g15","d":8,"v":450},{"c":"g15","d":10,"v":700},{"c":"g15","d":12,"v":1100},{"c":"g15","d":14,"v":1600},{"c":"g15","d":16,"v":2000},{"c":"g15","d":18,"v":2500},{"c":"g15","d":20,"v":2900},{"c":"g15","d":22,"v":3200},{"c":"g15","d":24,"v":3400},{"c":"g15","d":26,"v":3300},{"c":"g15","d":28,"v":2600},{"c":"g15","d":30,"v":2200},{"c":"g15","d":32,"v":1800},{"c":"g15","d":34,"v":1400},{"c":"g15","d":36,"v":1000},{"c":"g15","d":38,"v":700},{"c":"g15","d":40,"v":500},{"c":"g15","d":44,"v":300},{"c":"g15","d":48,"v":150},{"c":"g15","d":52,"v":80},{"c":"g15","d":56,"v":50},{"c":"g15","d":60,"v":40},{"c":"g15","d":64,"v":30},{"c":"g15","d":70,"v":20},{"c":"g15","d":76,"v":14},{"c":"g15","d":82,"v":10},{"c":"g15","d":88,"v":8},
{"c":"g16","d":0,"v":30},{"c":"g16","d":3,"v":60},{"c":"g16","d":6,"v":150},{"c":"g16","d":9,"v":400},{"c":"g16","d":12,"v":600},{"c":"g16","d":14,"v":600},{"c":"g16","d":17,"v":450},{"c":"g16","d":20,"v":350},{"c":"g16","d":24,"v":200},{"c":"g16","d":28,"v":130},{"c":"g16","d":32,"v":100},{"c":"g16","d":36,"v":90},{"c":"g16","d":40,"v":80},{"c":"g16","d":45,"v":60},{"c":"g16","d":50,"v":40},{"c":"g16","d":55,"v":30},{"c":"g16","d":60,"v":20},{"c":"g16","d":65,"v":12},{"c":"g16","d":70,"v":9},{"c":"g16","d":75,"v":11},{"c":"g16","d":80,"v":20},{"c":"g16","d":85,"v":30},{"c":"g16","d":90,"v":38},{"c":"g16","d":95,"v":42},{"c":"g16","d":100,"v":45},{"c":"g16","d":105,"v":48},
{"c":"g18","d":0,"v":11},{"c":"g18","d":10,"v":40},{"c":"g18","d":20,"v":100},{"c":"g18","d":30,"v":400},{"c":"g18","d":40,"v":800},{"c":"g18","d":50,"v":1300},{"c":"g18","d":60,"v":1500},{"c":"g18","d":66,"v":1600},{"c":"g18","d":72,"v":1550},{"c":"g18","d":78,"v":1400},
{"c":"g19","d":0,"v":10},{"c":"g19","d":10,"v":20},{"c":"g19","d":20,"v":35},{"c":"g19","d":30,"v":50},{"c":"g19","d":40,"v":55},{"c":"g19","d":50,"v":60},{"c":"g19","d":60,"v":55},{"c":"g19","d":70,"v":50},{"c":"g19","d":80,"v":40},{"c":"g19","d":88,"v":30},{"c":"g19","d":92,"v":35},{"c":"g19","d":96,"v":45},{"c":"g19","d":100,"v":40},{"c":"g19","d":104,"v":43},{"c":"g19","d":109,"v":44},
{"c":"g20","d":0,"v":10},{"c":"g20","d":10,"v":30},{"c":"g20","d":20,"v":55},{"c":"g20","d":30,"v":70},{"c":"g20","d":40,"v":80},{"c":"g20","d":50,"v":90},{"c":"g20","d":60,"v":85},{"c":"g20","d":70,"v":75},{"c":"g20","d":78,"v":72},{"c":"g20","d":83,"v":70},{"c":"g20","d":87,"v":60},{"c":"g20","d":90,"v":60},{"c":"g20","d":92,"v":78},{"c":"g20","d":95,"v":55},{"c":"g20","d":98,"v":28},{"c":"g20","d":100,"v":20},{"c":"g20","d":102,"v":14},{"c":"g20","d":104,"v":12},{"c":"g20","d":106,"v":10.7},{"c":"g20","d":110,"v":10},{"c":"g20","d":114,"v":9.5},{"c":"g20","d":117,"v":8.8},{"c":"g20","d":120,"v":8.2},
{"c":"g21","d":0,"v":10},{"c":"g21","d":10,"v":50},{"c":"g21","d":20,"v":120},{"c":"g21","d":30,"v":200},{"c":"g21","d":40,"v":280},{"c":"g21","d":50,"v":350},{"c":"g21","d":60,"v":420},{"c":"g21","d":70,"v":480},{"c":"g21","d":80,"v":470},{"c":"g21","d":88,"v":420},{"c":"g21","d":94,"v":380},{"c":"g21","d":100,"v":350},
{"c":"g22","d":0,"v":12},{"c":"g22","d":8,"v":70},{"c":"g22","d":16,"v":250},{"c":"g22","d":24,"v":500},{"c":"g22","d":32,"v":800},{"c":"g22","d":40,"v":1100},{"c":"g22","d":48,"v":1400},{"c":"g22","d":56,"v":1700},{"c":"g22","d":62,"v":1900},{"c":"g22","d":68,"v":1700},{"c":"g22","d":74,"v":1500},{"c":"g22","d":80,"v":1300},{"c":"g22","d":86,"v":1150},{"c":"g22","d":93,"v":1050},
{"c":"g23","d":0,"v":10},{"c":"g23","d":6,"v":60},{"c":"g23","d":12,"v":250},{"c":"g23","d":18,"v":600},{"c":"g23","d":24,"v":1000},{"c":"g23","d":30,"v":1300},{"c":"g23","d":36,"v":1600},{"c":"g23","d":42,"v":1900},{"c":"g23","d":48,"v":2100},{"c":"g23","d":54,"v":2000},{"c":"g23","d":60,"v":1800},{"c":"g23","d":66,"v":1700},{"c":"g23","d":72,"v":1600},{"c":"g23","d":78,"v":1500},{"c":"g23","d":82,"v":1420},
{"c":"g24","d":0,"v":10},{"c":"g24","d":8,"v":50},{"c":"g24","d":16,"v":200},{"c":"g24","d":24,"v":500},{"c":"g24","d":32,"v":900},{"c":"g24","d":40,"v":1300},{"c":"g24","d":48,"v":1700},{"c":"g24","d":56,"v":2000},{"c":"g24","d":64,"v":2300},{"c":"g24","d":70,"v":2400},{"c":"g24","d":76,"v":2500},{"c":"g24","d":80,"v":2450},{"c":"g24","d":84,"v":2500},{"c":"g24","d":87,"v":2500},
{"c":"g25","d":0,"v":10},{"c":"g25","d":10,"v":60},{"c":"g25","d":20,"v":200},{"c":"g25","d":30,"v":450},{"c":"g25","d":40,"v":700},{"c":"g25","d":50,"v":1000},{"c":"g25","d":60,"v":1300},{"c":"g25","d":70,"v":1700},{"c":"g25","d":78,"v":2000},{"c":"g25","d":84,"v":1900},{"c":"g25","d":88,"v":1750},{"c":"g25","d":91,"v":1600},{"c":"g25","d":94,"v":1530},
{"c":"g26","d":0,"v":10},{"c":"g26","d":10,"v":60},{"c":"g26","d":20,"v":150},{"c":"g26","d":30,"v":230},{"c":"g26","d":40,"v":280},{"c":"g26","d":50,"v":300},{"c":"g26","d":60,"v":290},{"c":"g26","d":68,"v":270},{"c":"g26","d":74,"v":260},{"c":"g26","d":78,"v":230},{"c":"g26","d":82,"v":180},{"c":"g26","d":85,"v":140},{"c":"g26","d":88,"v":115},
{"c":"g27","d":0,"v":10},{"c":"g27","d":8,"v":50},{"c":"g27","d":16,"v":130},{"c":"g27","d":24,"v":200},{"c":"g27","d":32,"v":260},{"c":"g27","d":40,"v":330},{"c":"g27","d":48,"v":400},{"c":"g27","d":56,"v":430},{"c":"g27","d":64,"v":470},{"c":"g27","d":70,"v":430},{"c":"g27","d":76,"v":330},{"c":"g27","d":80,"v":230},{"c":"g27","d":84,"v":180},{"c":"g27","d":88,"v":150},
{"c":"s1","d":0,"v":10},{"c":"s1","d":3,"v":18},{"c":"s1","d":6,"v":30},{"c":"s1","d":9,"v":45},{"c":"s1","d":12,"v":60},{"c":"s1","d":15,"v":80},{"c":"s1","d":18,"v":95},{"c":"s1","d":21,"v":110},{"c":"s1","d":24,"v":100},{"c":"s1","d":27,"v":90},{"c":"s1","d":30,"v":75},{"c":"s1","d":33,"v":60},{"c":"s1","d":36,"v":45},{"c":"s1","d":40,"v":35},{"c":"s1","d":44,"v":28},{"c":"s1","d":48,"v":20},{"c":"s1","d":52,"v":15},{"c":"s1","d":56,"v":12},
{"c":"s2","d":0,"v":10},{"c":"s2","d":4,"v":25},{"c":"s2","d":8,"v":55},{"c":"s2","d":12,"v":90},{"c":"s2","d":16,"v":140},{"c":"s2","d":20,"v":180},{"c":"s2","d":24,"v":220},{"c":"s2","d":28,"v":200},{"c":"s2","d":32,"v":240},{"c":"s2","d":36,"v":260},{"c":"s2","d":40,"v":230},{"c":"s2","d":44,"v":180},{"c":"s2","d":48,"v":150},{"c":"s2","d":52,"v":170},{"c":"s2","d":56,"v":210},{"c":"s2","d":60,"v":190},{"c":"s2","d":64,"v":160},
{"c":"s3","d":0,"v":11},{"c":"s3","d":5,"v":20},{"c":"s3","d":10,"v":35},{"c":"s3","d":15,"v":60},{"c":"s3","d":20,"v":75},{"c":"s3","d":25,"v":70},{"c":"s3","d":30,"v":55},{"c":"s3","d":35,"v":40},{"c":"s3","d":40,"v":32},{"c":"s3","d":45,"v":25},{"c":"s3","d":50,"v":30},{"c":"s3","d":55,"v":45},{"c":"s3","d":60,"v":60},{"c":"s3","d":65,"v":80},{"c":"s3","d":70,"v":95},{"c":"s3","d":75,"v":110},{"c":"s3","d":80,"v":120},
{"c":"s4","d":0,"v":10},{"c":"s4","d":2,"v":14},{"c":"s4","d":4,"v":22},{"c":"s4","d":6,"v":30},{"c":"s4","d":8,"v":38},{"c":"s4","d":10,"v":40},{"c":"s4","d":12,"v":35},{"c":"s4","d":14,"v":28},{"c":"s4","d":16,"v":22},{"c":"s4","d":18,"v":18},{"c":"s4","d":20,"v":15},{"c":"s4","d":23,"v":12},{"c":"s4","d":26,"v":10},{"c":"s4","d":30,"v":9},
{"c":"s5","d":0,"v":12},{"c":"s5","d":3,"v":25},{"c":"s5","d":6,"v":50},{"c":"s5","d":9,"v":90},{"c":"s5","d":12,"v":150},{"c":"s5","d":15,"v":230},{"c":"s5","d":18,"v":320},{"c":"s5","d":21,"v":400},{"c":"s5","d":24,"v":470},{"c":"s5","d":27,"v":520},{"c":"s5","d":30,"v":560},{"c":"s5","d":33,"v":520},{"c":"s5","d":36,"v":450},{"c":"s5","d":40,"v":380},{"c":"s5","d":44,"v":330},{"c":"s5","d":48,"v":300},{"c":"s5","d":52,"v":270},{"c":"s5","d":56,"v":260},{"c":"s5","d":60,"v":240},{"c":"s5","d":65,"v":220},{"c":"s5","d":70,"v":200},{"c":"s5","d":75,"v":190},
{"c":"s6","d":0,"v":10},{"c":"s6","d":4,"v":15},{"c":"s6","d":8,"v":25},{"c":"s6","d":12,"v":40},{"c":"s6","d":16,"v":55},{"c":"s6","d":20,"v":80},{"c":"s6","d":24,"v":110},{"c":"s6","d":28,"v":150},{"c":"s6","d":32,"v":190},{"c":"s6","d":36,"v":250},{"c":"s6","d":40,"v":310},{"c":"s6","d":44,"v":380},{"c":"s6","d":48,"v":430},{"c":"s6","d":52,"v":470},{"c":"s6","d":56,"v":520},{"c":"s6","d":60,"v":600},{"c":"s6","d":64,"v":650},{"c":"s6","d":68,"v":620},{"c":"s6","d":72,"v":580},
{"c":"s7","d":0,"v":10},{"c":"s7","d":5,"v":20},{"c":"s7","d":10,"v":30},{"c":"s7","d":15,"v":28},{"c":"s7","d":20,"v":35},{"c":"s7","d":25,"v":45},{"c":"s7","d":30,"v":40},{"c":"s7","d":35,"v":55},{"c":"s7","d":40,"v":70},{"c":"s7","d":45,"v":60},{"c":"s7","d":50,"v":50},{"c":"s7","d":55,"v":40},{"c":"s7","d":60,"v":30},{"c":"s7","d":65,"v":25},{"c":"s7","d":70,"v":20},
{"c":"s8","d":0,"v":11},{"c":"s8","d":3,"v":30},{"c":"s8","d":6,"v":70},{"c":"s8","d":9,"v":120},{"c":"s8","d":12,"v":180},{"c":"s8","d":15,"v":220},{"c":"s8","d":18,"v":250},{"c":"s8","d":21,"v":240},{"c":"s8","d":24,"v":210},{"c":"s8","d":27,"v":180},{"c":"s8","d":30,"v":150},{"c":"s8","d":33,"v":120},{"c":"s8","d":36,"v":100},{"c":"s8","d":40,"v":85},{"c":"s8","d":44,"v":70},{"c":"s8","d":48,"v":65},{"c":"s8","d":52,"v":55},{"c":"s8","d":56,"v":60},{"c":"s8","d":60,"v":70},{"c":"s8","d":64,"v":90},{"c":"s8","d":68,"v":120},{"c":"s8","d":72,"v":150},{"c":"s8","d":76,"v":180},{"c":"s8","d":80,"v":200},
{"c":"s9","d":0,"v":10},{"c":"s9","d":4,"v":12},{"c":"s9","d":8,"v":18},{"c":"s9","d":12,"v":25},{"c":"s9","d":16,"v":35},{"c":"s9","d":20,"v":50},{"c":"s9","d":24,"v":60},{"c":"s9","d":28,"v":85},{"c":"s9","d":32,"v":110},{"c":"s9","d":36,"v":130},{"c":"s9","d":40,"v":170},{"c":"s9","d":44,"v":200},{"c":"s9","d":48,"v":230},{"c":"s9","d":52,"v":280},{"c":"s9","d":56,"v":320},{"c":"s9","d":60,"v":380},{"c":"s9","d":64,"v":400},{"c":"s9","d":68,"v":450},{"c":"s9","d":72,"v":500},{"c":"s9","d":76,"v":560},{"c":"s9","d":80,"v":600},{"c":"s9","d":85,"v":650},{"c":"s9","d":90,"v":700},
{"c":"s10","d":0,"v":10},{"c":"s10","d":3,"v":16},{"c":"s10","d":6,"v":24},{"c":"s10","d":9,"v":30},{"c":"s10","d":12,"v":28},{"c":"s10","d":15,"v":24},{"c":"s10","d":18,"v":20},{"c":"s10","d":21,"v":16},{"c":"s10","d":24,"v":14},{"c":"s10","d":28,"v":12},{"c":"s10","d":32,"v":15},{"c":"s10","d":36,"v":20},{"c":"s10","d":40,"v":25},{"c":"s10","d":44,"v":30},{"c":"s10","d":48,"v":28},{"c":"s10","d":52,"v":22},
{"c":"s11","d":0,"v":10},{"c":"s11","d":5,"v":30},{"c":"s11","d":10,"v":80},{"c":"s11","d":15,"v":150},{"c":"s11","d":20,"v":200},{"c":"s11","d":25,"v":230},{"c":"s11","d":30,"v":260},{"c":"s11","d":35,"v":300},{"c":"s11","d":40,"v":330},{"c":"s11","d":45,"v":360},{"c":"s11","d":50,"v":340},{"c":"s11","d":55,"v":320},{"c":"s11","d":60,"v":400},{"c":"s11","d":65,"v":450},{"c":"s11","d":70,"v":500},{"c":"s11","d":75,"v":480},{"c":"s11","d":80,"v":450},{"c":"s11","d":85,"v":420},{"c":"s11","d":90,"v":400},
{"c":"s12","d":0,"v":10},{"c":"s12","d":4,"v":20},{"c":"s12","d":8,"v":40},{"c":"s12","d":12,"v":70},{"c":"s12","d":16,"v":100},{"c":"s12","d":20,"v":120},{"c":"s12","d":24,"v":130},{"c":"s12","d":28,"v":120},{"c":"s12","d":32,"v":100},{"c":"s12","d":36,"v":80},{"c":"s12","d":40,"v":65},{"c":"s12","d":44,"v":50},{"c":"s12","d":48,"v":40},{"c":"s12","d":52,"v":35},{"c":"s12","d":56,"v":30},{"c":"s12","d":60,"v":28},{"c":"s12","d":64,"v":25},{"c":"s12","d":68,"v":20},
{"c":"s13","d":0,"v":13},{"c":"s13","d":3,"v":35},{"c":"s13","d":6,"v":80},{"c":"s13","d":9,"v":150},{"c":"s13","d":12,"v":260},{"c":"s13","d":15,"v":380},{"c":"s13","d":18,"v":520},{"c":"s13","d":21,"v":650},{"c":"s13","d":24,"v":720},{"c":"s13","d":27,"v":700},{"c":"s13","d":30,"v":650},{"c":"s13","d":33,"v":580},{"c":"s13","d":36,"v":480},{"c":"s13","d":40,"v":400},{"c":"s13","d":44,"v":350},{"c":"s13","d":48,"v":300},{"c":"s13","d":52,"v":280},{"c":"s13","d":56,"v":250},{"c":"s13","d":60,"v":230},{"c":"s13","d":64,"v":200},{"c":"s13","d":68,"v":180},
{"c":"s14","d":0,"v":10},{"c":"s14","d":6,"v":22},{"c":"s14","d":12,"v":40},{"c":"s14","d":18,"v":70},{"c":"s14","d":24,"v":110},{"c":"s14","d":30,"v":170},{"c":"s14","d":36,"v":250},{"c":"s14","d":42,"v":330},{"c":"s14","d":48,"v":420},{"c":"s14","d":54,"v":500},{"c":"s14","d":60,"v":560},{"c":"s14","d":66,"v":580},{"c":"s14","d":72,"v":540},{"c":"s14","d":78,"v":500},{"c":"s14","d":84,"v":470},{"c":"s14","d":88,"v":430},
{"c":"s15","d":0,"v":10},{"c":"s15","d":3,"v":14},{"c":"s15","d":6,"v":20},{"c":"s15","d":9,"v":26},{"c":"s15","d":12,"v":40},{"c":"s15","d":15,"v":55},{"c":"s15","d":18,"v":70},{"c":"s15","d":21,"v":90},{"c":"s15","d":24,"v":85},{"c":"s15","d":27,"v":75},{"c":"s15","d":30,"v":70},{"c":"s15","d":33,"v":80},{"c":"s15","d":36,"v":95},{"c":"s15","d":39,"v":110},{"c":"s15","d":42,"v":130},{"c":"s15","d":45,"v":120},{"c":"s15","d":48,"v":100},{"c":"s15","d":51,"v":90},{"c":"s15","d":54,"v":85},{"c":"s15","d":57,"v":80},{"c":"s15","d":60,"v":70},
{"c":"s16","d":0,"v":10},{"c":"s16","d":4,"v":18},{"c":"s16","d":8,"v":35},{"c":"s16","d":12,"v":55},{"c":"s16","d":16,"v":75},{"c":"s16","d":20,"v":90},{"c":"s16","d":24,"v":110},{"c":"s16","d":28,"v":140},{"c":"s16","d":32,"v":160},{"c":"s16","d":36,"v":150},{"c":"s16","d":40,"v":130},{"c":"s16","d":44,"v":120},{"c":"s16","d":48,"v":140},{"c":"s16","d":52,"v":170},{"c":"s16","d":56,"v":200},{"c":"s16","d":60,"v":230},{"c":"s16","d":64,"v":260},{"c":"s16","d":68,"v":290},{"c":"s16","d":72,"v":330},{"c":"s16","d":76,"v":360},{"c":"s16","d":80,"v":380},{"c":"s16","d":84,"v":400},
{"c":"s17","d":0,"v":10},{"c":"s17","d":5,"v":15},{"c":"s17","d":10,"v":18},{"c":"s17","d":15,"v":25},{"c":"s17","d":20,"v":22},{"c":"s17","d":25,"v":30},{"c":"s17","d":30,"v":38},{"c":"s17","d":35,"v":50},{"c":"s17","d":40,"v":45},{"c":"s17","d":45,"v":40},{"c":"s17","d":50,"v":55},{"c":"s17","d":55,"v":70},{"c":"s17","d":60,"v":65},{"c":"s17","d":65,"v":55},{"c":"s17","d":70,"v":45},{"c":"s17","d":75,"v":40},{"c":"s17","d":80,"v":35},{"c":"s17","d":85,"v":30},
{"c":"s18","d":0,"v":11},{"c":"s18","d":4,"v":30},{"c":"s18","d":8,"v":60},{"c":"s18","d":12,"v":100},{"c":"s18","d":16,"v":160},{"c":"s18","d":20,"v":240},{"c":"s18","d":24,"v":300},{"c":"s18","d":28,"v":380},{"c":"s18","d":32,"v":430},{"c":"s18","d":36,"v":500},{"c":"s18","d":40,"v":560},{"c":"s18","d":44,"v":620},{"c":"s18","d":48,"v":700},{"c":"s18","d":52,"v":800},{"c":"s18","d":56,"v":900},{"c":"s18","d":60,"v":950},{"c":"s18","d":64,"v":1000},{"c":"s18","d":68,"v":1050},{"c":"s18","d":72,"v":1000},{"c":"s18","d":76,"v":980},{"c":"s18","d":80,"v":950},{"c":"s18","d":84,"v":900},{"c":"s18","d":88,"v":880},{"c":"s18","d":92,"v":950},{"c":"s18","d":94,"v":1050},
{"c":"s19","d":0,"v":10},{"c":"s19","d":3,"v":20},{"c":"s19","d":6,"v":35},{"c":"s19","d":9,"v":45},{"c":"s19","d":12,"v":50},{"c":"s19","d":15,"v":45},{"c":"s19","d":18,"v":38},{"c":"s19","d":21,"v":30},{"c":"s19","d":24,"v":25},{"c":"s19","d":27,"v":20},{"c":"s19","d":30,"v":18},{"c":"s19","d":33,"v":15},{"c":"s19","d":36,"v":12},{"c":"s19","d":40,"v":10},{"c":"s19","d":44,"v":9},{"c":"s19","d":48,"v":10},{"c":"s19","d":52,"v":12},
{"c":"s20","d":0,"v":10},{"c":"s20","d":5,"v":25},{"c":"s20","d":10,"v":45},{"c":"s20","d":15,"v":70},{"c":"s20","d":20,"v":95},{"c":"s20","d":25,"v":120},{"c":"s20","d":30,"v":140},{"c":"s20","d":35,"v":160},{"c":"s20","d":40,"v":170},{"c":"s20","d":45,"v":200},{"c":"s20","d":50,"v":230},{"c":"s20","d":55,"v":280},{"c":"s20","d":60,"v":330},{"c":"s20","d":65,"v":380},{"c":"s20","d":70,"v":420},{"c":"s20","d":75,"v":460},{"c":"s20","d":80,"v":520},{"c":"s20","d":85,"v":550},{"c":"s20","d":90,"v":600},{"c":"s20","d":95,"v":620},{"c":"s20","d":100,"v":600},{"c":"s20","d":104,"v":560},
{"c":"s21","d":0,"v":10},{"c":"s21","d":4,"v":14},{"c":"s21","d":8,"v":20},{"c":"s21","d":12,"v":18},{"c":"s21","d":16,"v":25},{"c":"s21","d":20,"v":32},{"c":"s21","d":24,"v":28},{"c":"s21","d":28,"v":36},{"c":"s21","d":32,"v":45},{"c":"s21","d":36,"v":40},{"c":"s21","d":40,"v":50},{"c":"s21","d":44,"v":60},{"c":"s21","d":48,"v":55},{"c":"s21","d":52,"v":45},{"c":"s21","d":56,"v":38},{"c":"s21","d":60,"v":30},{"c":"s21","d":64,"v":35},{"c":"s21","d":68,"v":42},{"c":"s21","d":72,"v":50},{"c":"s21","d":76,"v":45},{"c":"s21","d":80,"v":40},{"c":"s21","d":84,"v":38},
{"c":"s22","d":0,"v":10},{"c":"s22","d":6,"v":30},{"c":"s22","d":12,"v":60},{"c":"s22","d":18,"v":90},{"c":"s22","d":24,"v":120},{"c":"s22","d":30,"v":110},{"c":"s22","d":36,"v":90},{"c":"s22","d":42,"v":70},{"c":"s22","d":48,"v":60},{"c":"s22","d":54,"v":50},{"c":"s22","d":60,"v":45},{"c":"s22","d":66,"v":48},{"c":"s22","d":72,"v":55},{"c":"s22","d":78,"v":65},{"c":"s22","d":84,"v":75},{"c":"s22","d":90,"v":80},{"c":"s22","d":96,"v":70},{"c":"s22","d":100,"v":60},
{"c":"s23","d":0,"v":12},{"c":"s23","d":3,"v":40},{"c":"s23","d":6,"v":90},{"c":"s23","d":9,"v":160},{"c":"s23","d":12,"v":240},{"c":"s23","d":15,"v":300},{"c":"s23","d":18,"v":340},{"c":"s23","d":21,"v":360},{"c":"s23","d":24,"v":330},{"c":"s23","d":27,"v":280},{"c":"s23","d":30,"v":240},{"c":"s23","d":33,"v":200},{"c":"s23","d":36,"v":170},{"c":"s23","d":40,"v":140},{"c":"s23","d":44,"v":115},{"c":"s23","d":48,"v":100},{"c":"s23","d":52,"v":90},{"c":"s23","d":56,"v":80},{"c":"s23","d":60,"v":70},
{"c":"s24","d":0,"v":10},{"c":"s24","d":5,"v":18},{"c":"s24","d":10,"v":28},{"c":"s24","d":15,"v":40},{"c":"s24","d":20,"v":60},{"c":"s24","d":25,"v":80},{"c":"s24","d":30,"v":105},{"c":"s24","d":35,"v":130},{"c":"s24","d":40,"v":150},{"c":"s24","d":45,"v":160},{"c":"s24","d":50,"v":175},{"c":"s24","d":55,"v":190},{"c":"s24","d":60,"v":210},{"c":"s24","d":65,"v":260},{"c":"s24","d":70,"v":300},{"c":"s24","d":75,"v":340},{"c":"s24","d":80,"v":380},{"c":"s24","d":85,"v":410},{"c":"s24","d":90,"v":430},{"c":"s24","d":95,"v":420},{"c":"s24","d":100,"v":400},{"c":"s24","d":106,"v":300},
{"c":"s25","d":0,"v":10},{"c":"s25","d":4,"v":16},{"c":"s25","d":8,"v":22},{"c":"s25","d":12,"v":30},{"c":"s25","d":16,"v":28},{"c":"s25","d":20,"v":22},{"c":"s25","d":24,"v":18},{"c":"s25","d":28,"v":14},{"c":"s25","d":32,"v":12},{"c":"s25","d":36,"v":11},{"c":"s25","d":40,"v":10},
{"c":"s26","d":0,"v":14},{"c":"s26","d":3,"v":45},{"c":"s26","d":6,"v":110},{"c":"s26","d":9,"v":220},{"c":"s26","d":12,"v":380},{"c":"s26","d":15,"v":560},{"c":"s26","d":18,"v":700},{"c":"s26","d":21,"v":820},{"c":"s26","d":24,"v":900},{"c":"s26","d":27,"v":950},{"c":"s26","d":30,"v":900},{"c":"s26","d":33,"v":850},{"c":"s26","d":36,"v":780},{"c":"s26","d":40,"v":700},{"c":"s26","d":44,"v":600},{"c":"s26","d":48,"v":500},{"c":"s26","d":52,"v":450},{"c":"s26","d":56,"v":400},{"c":"s26","d":60,"v":380},{"c":"s26","d":64,"v":350},{"c":"s26","d":68,"v":330},{"c":"s26","d":72,"v":310},{"c":"s26","d":76,"v":300},
{"c":"s27","d":0,"v":10},{"c":"s27","d":5,"v":20},{"c":"s27","d":10,"v":40},{"c":"s27","d":15,"v":65},{"c":"s27","d":20,"v":100},{"c":"s27","d":25,"v":150},{"c":"s27","d":30,"v":200},{"c":"s27","d":35,"v":240},{"c":"s27","d":40,"v":280},{"c":"s27","d":45,"v":300},{"c":"s27","d":50,"v":320},{"c":"s27","d":55,"v":300},{"c":"s27","d":60,"v":270},{"c":"s27","d":65,"v":250},{"c":"s27","d":70,"v":240},{"c":"s27","d":75,"v":230},{"c":"s27","d":80,"v":210},{"c":"s27","d":85,"v":190},{"c":"s27","d":90,"v":170},{"c":"s27","d":95,"v":160},
{"c":"s28","d":0,"v":10},{"c":"s28","d":4,"v":13},{"c":"s28","d":8,"v":16},{"c":"s28","d":12,"v":22},{"c":"s28","d":16,"v":30},{"c":"s28","d":20,"v":40},{"c":"s28","d":24,"v":38},{"c":"s28","d":28,"v":34},{"c":"s28","d":32,"v":30},{"c":"s28","d":36,"v":28},{"c":"s28","d":40,"v":32},{"c":"s28","d":44,"v":38},{"c":"s28","d":48,"v":45},{"c":"s28","d":52,"v":55},{"c":"s28","d":56,"v":65},{"c":"s28","d":60,"v":80},{"c":"s28","d":64,"v":95},{"c":"s28","d":68,"v":110},{"c":"s28","d":72,"v":120},{"c":"s28","d":76,"v":130},{"c":"s28","d":80,"v":140},{"c":"s28","d":84,"v":150},
{"c":"s29","d":0,"v":10},{"c":"s29","d":3,"v":22},{"c":"s29","d":6,"v":40},{"c":"s29","d":9,"v":70},{"c":"s29","d":12,"v":100},{"c":"s29","d":15,"v":130},{"c":"s29","d":18,"v":150},{"c":"s29","d":21,"v":160},{"c":"s29","d":24,"v":150},{"c":"s29","d":27,"v":140},{"c":"s29","d":30,"v":120},{"c":"s29","d":33,"v":105},{"c":"s29","d":36,"v":90},{"c":"s29","d":40,"v":75},{"c":"s29","d":44,"v":60},{"c":"s29","d":48,"v":50},{"c":"s29","d":52,"v":45},{"c":"s29","d":56,"v":42},{"c":"s29","d":60,"v":40},{"c":"s29","d":64,"v":35},{"c":"s29","d":68,"v":30},
{"c":"s30","d":0,"v":10},{"c":"s30","d":6,"v":15},{"c":"s30","d":12,"v":22},{"c":"s30","d":18,"v":35},{"c":"s30","d":24,"v":50},{"c":"s30","d":30,"v":70},{"c":"s30","d":36,"v":90},{"c":"s30","d":42,"v":120},{"c":"s30","d":48,"v":150},{"c":"s30","d":54,"v":180},{"c":"s30","d":60,"v":210},{"c":"s30","d":66,"v":240},{"c":"s30","d":72,"v":260},{"c":"s30","d":78,"v":270},{"c":"s30","d":84,"v":250},{"c":"s30","d":90,"v":230},{"c":"s30","d":96,"v":200},
{"c":"s31","d":0,"v":10},{"c":"s31","d":4,"v":25},{"c":"s31","d":8,"v":50},{"c":"s31","d":12,"v":80},{"c":"s31","d":16,"v":120},{"c":"s31","d":20,"v":150},{"c":"s31","d":24,"v":170},{"c":"s31","d":28,"v":160},{"c":"s31","d":32,"v":140},{"c":"s31","d":36,"v":120},{"c":"s31","d":40,"v":100},{"c":"s31","d":44,"v":90},{"c":"s31","d":48,"v":110},{"c":"s31","d":52,"v":140},{"c":"s31","d":56,"v":160},{"c":"s31","d":60,"v":150},{"c":"s31","d":64,"v":130},{"c":"s31","d":68,"v":120},{"c":"s31","d":72,"v":110},{"c":"s31","d":76,"v":100},{"c":"s31","d":80,"v":90},
{"c":"s33","d":0,"v":10},{"c":"s33","d":5,"v":16},{"c":"s33","d":10,"v":25},{"c":"s33","d":15,"v":40},{"c":"s33","d":20,"v":55},{"c":"s33","d":25,"v":75},{"c":"s33","d":30,"v":90},{"c":"s33","d":35,"v":100},{"c":"s33","d":40,"v":120},{"c":"s33","d":45,"v":110},{"c":"s33","d":50,"v":95},{"c":"s33","d":55,"v":105},{"c":"s33","d":60,"v":120},{"c":"s33","d":65,"v":140},{"c":"s33","d":70,"v":130},{"c":"s33","d":75,"v":115},{"c":"s33","d":80,"v":100},{"c":"s33","d":85,"v":90},{"c":"s33","d":90,"v":80},
{"c":"s34","d":0,"v":10},{"c":"s34","d":6,"v":20},{"c":"s34","d":12,"v":45},{"c":"s34","d":18,"v":80},{"c":"s34","d":24,"v":140},{"c":"s34","d":30,"v":190},{"c":"s34","d":36,"v":230},{"c":"s34","d":42,"v":260},{"c":"s34","d":48,"v":240},{"c":"s34","d":54,"v":210},{"c":"s34","d":60,"v":180},{"c":"s34","d":66,"v":150},{"c":"s34","d":72,"v":130},{"c":"s34","d":78,"v":110},{"c":"s34","d":84,"v":95},{"c":"s34","d":88,"v":90},
{"c":"s35","d":0,"v":10},{"c":"s35","d":5,"v":12},{"c":"s35","d":10,"v":15},{"c":"s35","d":15,"v":20},{"c":"s35","d":20,"v":25},{"c":"s35","d":25,"v":32},{"c":"s35","d":30,"v":40},{"c":"s35","d":35,"v":48},{"c":"s35","d":40,"v":60},{"c":"s35","d":45,"v":75},{"c":"s35","d":50,"v":90},{"c":"s35","d":55,"v":100},{"c":"s35","d":60,"v":95},{"c":"s35","d":65,"v":85},{"c":"s35","d":70,"v":70},{"c":"s35","d":75,"v":60},{"c":"s35","d":80,"v":52},{"c":"s35","d":85,"v":45},{"c":"s35","d":90,"v":42},{"c":"s35","d":95,"v":40},{"c":"s35","d":100,"v":38},
{"c":"s36","d":0,"v":11},{"c":"s36","d":4,"v":28},{"c":"s36","d":8,"v":55},{"c":"s36","d":12,"v":85},{"c":"s36","d":16,"v":110},{"c":"s36","d":20,"v":140},{"c":"s36","d":24,"v":180},{"c":"s36","d":28,"v":220},{"c":"s36","d":32,"v":270},{"c":"s36","d":36,"v":300},{"c":"s36","d":40,"v":290},{"c":"s36","d":44,"v":260},{"c":"s36","d":48,"v":220},{"c":"s36","d":52,"v":190},{"c":"s36","d":56,"v":170},{"c":"s36","d":60,"v":160},{"c":"s36","d":64,"v":150},{"c":"s36","d":68,"v":150},{"c":"s36","d":72,"v":160},{"c":"s36","d":76,"v":150},
{"c":"s37","d":0,"v":10},{"c":"s37","d":4,"v":20},{"c":"s37","d":8,"v":30},{"c":"s37","d":12,"v":45},{"c":"s37","d":16,"v":60},{"c":"s37","d":20,"v":70},{"c":"s37","d":24,"v":65},{"c":"s37","d":28,"v":55},{"c":"s37","d":32,"v":48},{"c":"s37","d":36,"v":52},{"c":"s37","d":40,"v":60},{"c":"s37","d":44,"v":70},{"c":"s37","d":48,"v":85},{"c":"s37","d":52,"v":95},{"c":"s37","d":56,"v":90},{"c":"s37","d":60,"v":80},{"c":"s37","d":64,"v":75},{"c":"s37","d":68,"v":70},
{"c":"s38","d":0,"v":10},{"c":"s38","d":3,"v":12},{"c":"s38","d":6,"v":16},{"c":"s38","d":9,"v":22},{"c":"s38","d":12,"v":20},{"c":"s38","d":15,"v":18},{"c":"s38","d":18,"v":24},{"c":"s38","d":21,"v":30},{"c":"s38","d":24,"v":26},{"c":"s38","d":27,"v":22},{"c":"s38","d":30,"v":25},{"c":"s38","d":33,"v":30},{"c":"s38","d":36,"v":34},{"c":"s38","d":39,"v":30},{"c":"s38","d":42,"v":26},{"c":"s38","d":45,"v":22},{"c":"s38","d":48,"v":20},{"c":"s38","d":51,"v":18},{"c":"s38","d":54,"v":22},{"c":"s38","d":57,"v":25},{"c":"s38","d":60,"v":20},
{"c":"s39","d":0,"v":10},{"c":"s39","d":5,"v":30},{"c":"s39","d":10,"v":70},{"c":"s39","d":15,"v":120},{"c":"s39","d":20,"v":170},{"c":"s39","d":25,"v":220},{"c":"s39","d":30,"v":260},{"c":"s39","d":35,"v":280},{"c":"s39","d":40,"v":270},{"c":"s39","d":45,"v":240},{"c":"s39","d":50,"v":210},{"c":"s39","d":55,"v":230},{"c":"s39","d":60,"v":280},{"c":"s39","d":65,"v":330},{"c":"s39","d":70,"v":380},{"c":"s39","d":75,"v":420},{"c":"s39","d":80,"v":400},{"c":"s39","d":85,"v":380},{"c":"s39","d":90,"v":360},
{"c":"s40","d":0,"v":12},{"c":"s40","d":4,"v":35},{"c":"s40","d":8,"v":70},{"c":"s40","d":12,"v":120},{"c":"s40","d":16,"v":200},{"c":"s40","d":20,"v":280},{"c":"s40","d":24,"v":350},{"c":"s40","d":28,"v":420},{"c":"s40","d":32,"v":460},{"c":"s40","d":36,"v":450},{"c":"s40","d":40,"v":400},{"c":"s40","d":44,"v":340},{"c":"s40","d":48,"v":280},{"c":"s40","d":52,"v":230},{"c":"s40","d":56,"v":190},{"c":"s40","d":60,"v":160},{"c":"s40","d":64,"v":130},{"c":"s40","d":68,"v":110},{"c":"s40","d":72,"v":95},{"c":"s40","d":76,"v":80},{"c":"s40","d":80,"v":70},
{"c":"n1","d":0,"v":10},{"c":"n1","d":3,"v":14},{"c":"n1","d":6,"v":19},{"c":"n1","d":9,"v":26},{"c":"n1","d":12,"v":22},{"c":"n1","d":15,"v":30},{"c":"n1","d":18,"v":38},{"c":"n1","d":21,"v":33},{"c":"n1","d":24,"v":45},{"c":"n1","d":27,"v":40},{"c":"n1","d":30,"v":52},{"c":"n1","d":33,"v":48},{"c":"n1","d":36,"v":60},{"c":"n1","d":39,"v":55},{"c":"n1","d":42,"v":48},{"c":"n1","d":45,"v":58},{"c":"n1","d":48,"v":70},{"c":"n1","d":51,"v":62},{"c":"n1","d":54,"v":55},{"c":"n1","d":57,"v":66},{"c":"n1","d":60,"v":75},{"c":"n1","d":63,"v":68},{"c":"n1","d":66,"v":60},{"c":"n1","d":69,"v":72},{"c":"n1","d":72,"v":85},{"c":"n1","d":75,"v":78},
{"c":"n2","d":0,"v":10},{"c":"n2","d":3,"v":17},{"c":"n2","d":6,"v":28},{"c":"n2","d":9,"v":40},{"c":"n2","d":12,"v":55},{"c":"n2","d":15,"v":48},{"c":"n2","d":18,"v":62},{"c":"n2","d":21,"v":75},{"c":"n2","d":24,"v":68},{"c":"n2","d":27,"v":55},{"c":"n2","d":30,"v":60},{"c":"n2","d":33,"v":50},{"c":"n2","d":36,"v":42},{"c":"n2","d":39,"v":48},{"c":"n2","d":42,"v":38},{"c":"n2","d":45,"v":32},{"c":"n2","d":48,"v":36},{"c":"n2","d":51,"v":30},{"c":"n2","d":54,"v":26},{"c":"n2","d":57,"v":30},{"c":"n2","d":60,"v":25},
{"c":"n3","d":0,"v":10},{"c":"n3","d":4,"v":13},{"c":"n3","d":8,"v":18},{"c":"n3","d":12,"v":16},{"c":"n3","d":16,"v":22},{"c":"n3","d":20,"v":28},{"c":"n3","d":24,"v":24},{"c":"n3","d":28,"v":30},{"c":"n3","d":32,"v":27},{"c":"n3","d":36,"v":35},{"c":"n3","d":40,"v":31},{"c":"n3","d":44,"v":40},{"c":"n3","d":48,"v":36},{"c":"n3","d":52,"v":45},{"c":"n3","d":56,"v":52},{"c":"n3","d":60,"v":46},{"c":"n3","d":64,"v":55},{"c":"n3","d":68,"v":62},{"c":"n3","d":72,"v":58},{"c":"n3","d":76,"v":66},{"c":"n3","d":80,"v":60},{"c":"n3","d":84,"v":70},{"c":"n3","d":88,"v":64},{"c":"n3","d":92,"v":72},{"c":"n3","d":96,"v":68},
{"c":"n4","d":0,"v":11},{"c":"n4","d":3,"v":25},{"c":"n4","d":6,"v":45},{"c":"n4","d":9,"v":60},{"c":"n4","d":12,"v":80},{"c":"n4","d":15,"v":70},{"c":"n4","d":18,"v":95},{"c":"n4","d":21,"v":85},{"c":"n4","d":24,"v":110},{"c":"n4","d":27,"v":95},{"c":"n4","d":30,"v":80},{"c":"n4","d":33,"v":90},{"c":"n4","d":36,"v":75},{"c":"n4","d":39,"v":65},{"c":"n4","d":42,"v":72},{"c":"n4","d":45,"v":60},{"c":"n4","d":48,"v":52},{"c":"n4","d":51,"v":58},{"c":"n4","d":54,"v":48},{"c":"n4","d":57,"v":42},{"c":"n4","d":60,"v":46},{"c":"n4","d":63,"v":40},{"c":"n4","d":66,"v":35},
{"c":"n5","d":0,"v":10},{"c":"n5","d":5,"v":14},{"c":"n5","d":10,"v":20},{"c":"n5","d":15,"v":18},{"c":"n5","d":20,"v":26},{"c":"n5","d":25,"v":22},{"c":"n5","d":30,"v":30},{"c":"n5","d":35,"v":26},{"c":"n5","d":40,"v":34},{"c":"n5","d":45,"v":30},{"c":"n5","d":50,"v":38},{"c":"n5","d":55,"v":33},{"c":"n5","d":60,"v":28},{"c":"n5","d":65,"v":32},{"c":"n5","d":70,"v":27},{"c":"n5","d":75,"v":24},{"c":"n5","d":80,"v":28},{"c":"n5","d":85,"v":25},{"c":"n5","d":90,"v":30},{"c":"n5","d":95,"v":27},{"c":"n5","d":100,"v":32},
{"c":"n6","d":0,"v":12},{"c":"n6","d":3,"v":30},{"c":"n6","d":6,"v":55},{"c":"n6","d":9,"v":90},{"c":"n6","d":12,"v":120},{"c":"n6","d":15,"v":105},{"c":"n6","d":18,"v":140},{"c":"n6","d":21,"v":125},{"c":"n6","d":24,"v":160},{"c":"n6","d":27,"v":145},{"c":"n6","d":30,"v":130},{"c":"n6","d":33,"v":150},{"c":"n6","d":36,"v":135},{"c":"n6","d":39,"v":120},{"c":"n6","d":42,"v":140},{"c":"n6","d":45,"v":125},{"c":"n6","d":48,"v":110},{"c":"n6","d":51,"v":120},{"c":"n6","d":54,"v":105},{"c":"n6","d":57,"v":95},{"c":"n6","d":60,"v":110},{"c":"n6","d":63,"v":100},{"c":"n6","d":66,"v":90},{"c":"n6","d":69,"v":105},{"c":"n6","d":72,"v":95},{"c":"n6","d":75,"v":85},{"c":"n6","d":78,"v":95},{"c":"n6","d":81,"v":88},
{"c":"n7","d":0,"v":10},{"c":"n7","d":3,"v":12},{"c":"n7","d":6,"v":15},{"c":"n7","d":9,"v":20},{"c":"n7","d":12,"v":25},{"c":"n7","d":15,"v":22},{"c":"n7","d":18,"v":28},{"c":"n7","d":21,"v":35},{"c":"n7","d":24,"v":30},{"c":"n7","d":27,"v":26},{"c":"n7","d":30,"v":22},{"c":"n7","d":33,"v":27},{"c":"n7","d":36,"v":23},{"c":"n7","d":39,"v":19},{"c":"n7","d":42,"v":16},{"c":"n7","d":45,"v":19},{"c":"n7","d":48,"v":15},{"c":"n7","d":51,"v":13},{"c":"n7","d":54,"v":16},{"c":"n7","d":57,"v":14},{"c":"n7","d":60,"v":12},
{"c":"n8","d":0,"v":10},{"c":"n8","d":4,"v":18},{"c":"n8","d":8,"v":30},{"c":"n8","d":12,"v":45},{"c":"n8","d":16,"v":40},{"c":"n8","d":20,"v":55},{"c":"n8","d":24,"v":70},{"c":"n8","d":28,"v":62},{"c":"n8","d":32,"v":80},{"c":"n8","d":36,"v":72},{"c":"n8","d":40,"v":90},{"c":"n8","d":44,"v":82},{"c":"n8","d":48,"v":100},{"c":"n8","d":52,"v":88},{"c":"n8","d":56,"v":110},{"c":"n8","d":60,"v":95},{"c":"n8","d":64,"v":120},{"c":"n8","d":68,"v":105},{"c":"n8","d":72,"v":130},{"c":"n8","d":76,"v":115},{"c":"n8","d":80,"v":140},{"c":"n8","d":84,"v":125},{"c":"n8","d":88,"v":150},{"c":"n8","d":92,"v":135},{"c":"n8","d":96,"v":160},{"c":"n8","d":100,"v":140},
{"c":"n9","d":0,"v":10},{"c":"n9","d":3,"v":15},{"c":"n9","d":6,"v":24},{"c":"n9","d":9,"v":32},{"c":"n9","d":12,"v":45},{"c":"n9","d":15,"v":40},{"c":"n9","d":18,"v":52},{"c":"n9","d":21,"v":46},{"c":"n9","d":24,"v":38},{"c":"n9","d":27,"v":44},{"c":"n9","d":30,"v":36},{"c":"n9","d":33,"v":30},{"c":"n9","d":36,"v":35},{"c":"n9","d":39,"v":29},{"c":"n9","d":42,"v":25},{"c":"n9","d":45,"v":30},{"c":"n9","d":48,"v":26},{"c":"n9","d":51,"v":22},{"c":"n9","d":54,"v":27},{"c":"n9","d":57,"v":32},{"c":"n9","d":60,"v":28},{"c":"n9","d":63,"v":35},{"c":"n9","d":66,"v":42},{"c":"n9","d":69,"v":38},{"c":"n9","d":72,"v":46},{"c":"n9","d":75,"v":55},{"c":"n9","d":78,"v":50},
{"c":"n10","d":0,"v":10},{"c":"n10","d":4,"v":22},{"c":"n10","d":8,"v":40},{"c":"n10","d":12,"v":65},{"c":"n10","d":16,"v":90},{"c":"n10","d":20,"v":80},{"c":"n10","d":24,"v":105},{"c":"n10","d":28,"v":95},{"c":"n10","d":32,"v":120},{"c":"n10","d":36,"v":110},{"c":"n10","d":40,"v":95},{"c":"n10","d":44,"v":115},{"c":"n10","d":48,"v":100},{"c":"n10","d":52,"v":85},{"c":"n10","d":56,"v":100},{"c":"n10","d":60,"v":90},{"c":"n10","d":64,"v":78},{"c":"n10","d":68,"v":92},{"c":"n10","d":72,"v":80},{"c":"n10","d":76,"v":70},{"c":"n10","d":80,"v":82},{"c":"n10","d":84,"v":72},{"c":"n10","d":88,"v":65},{"c":"n10","d":92,"v":75},
{"c":"n11","d":0,"v":10},{"c":"n11","d":3,"v":13},{"c":"n11","d":6,"v":17},{"c":"n11","d":9,"v":23},{"c":"n11","d":12,"v":30},{"c":"n11","d":15,"v":26},{"c":"n11","d":18,"v":34},{"c":"n11","d":21,"v":42},{"c":"n11","d":24,"v":37},{"c":"n11","d":27,"v":48},{"c":"n11","d":30,"v":43},{"c":"n11","d":33,"v":55},{"c":"n11","d":36,"v":49},{"c":"n11","d":39,"v":62},{"c":"n11","d":42,"v":56},{"c":"n11","d":45,"v":70},{"c":"n11","d":48,"v":62},{"c":"n11","d":51,"v":78},{"c":"n11","d":54,"v":70},{"c":"n11","d":57,"v":88},{"c":"n11","d":60,"v":80},{"c":"n11","d":63,"v":96},{"c":"n11","d":66,"v":88},{"c":"n11","d":69,"v":105},{"c":"n11","d":72,"v":96},{"c":"n11","d":75,"v":115},{"c":"n11","d":78,"v":105},{"c":"n11","d":81,"v":125},{"c":"n11","d":84,"v":112},
{"c":"n12","d":0,"v":10},{"c":"n12","d":3,"v":20},{"c":"n12","d":6,"v":35},{"c":"n12","d":9,"v":50},{"c":"n12","d":12,"v":65},{"c":"n12","d":15,"v":58},{"c":"n12","d":18,"v":48},{"c":"n12","d":21,"v":55},{"c":"n12","d":24,"v":45},{"c":"n12","d":27,"v":38},{"c":"n12","d":30,"v":44},{"c":"n12","d":33,"v":36},{"c":"n12","d":36,"v":30},{"c":"n12","d":39,"v":35},{"c":"n12","d":42,"v":28},{"c":"n12","d":45,"v":24},{"c":"n12","d":48,"v":28},{"c":"n12","d":51,"v":22},{"c":"n12","d":54,"v":19},{"c":"n12","d":57,"v":22},{"c":"n12","d":60,"v":18},{"c":"n12","d":63,"v":15},{"c":"n12","d":66,"v":18},{"c":"n12","d":69,"v":14},
{"c":"n13","d":0,"v":10},{"c":"n13","d":5,"v":16},{"c":"n13","d":10,"v":28},{"c":"n13","d":15,"v":44},{"c":"n13","d":20,"v":62},{"c":"n13","d":25,"v":85},{"c":"n13","d":30,"v":110},{"c":"n13","d":35,"v":100},{"c":"n13","d":40,"v":130},{"c":"n13","d":45,"v":115},{"c":"n13","d":50,"v":140},{"c":"n13","d":55,"v":125},{"c":"n13","d":60,"v":150},{"c":"n13","d":65,"v":135},{"c":"n13","d":70,"v":160},{"c":"n13","d":75,"v":140},{"c":"n13","d":80,"v":165},{"c":"n13","d":85,"v":150},{"c":"n13","d":90,"v":170},{"c":"n13","d":95,"v":155},{"c":"n13","d":100,"v":175},{"c":"n13","d":104,"v":160},
{"c":"n14","d":0,"v":10},{"c":"n14","d":3,"v":16},{"c":"n14","d":6,"v":22},{"c":"n14","d":9,"v":18},{"c":"n14","d":12,"v":26},{"c":"n14","d":15,"v":34},{"c":"n14","d":18,"v":29},{"c":"n14","d":21,"v":38},{"c":"n14","d":24,"v":33},{"c":"n14","d":27,"v":42},{"c":"n14","d":30,"v":36},{"c":"n14","d":33,"v":31},{"c":"n14","d":36,"v":38},{"c":"n14","d":39,"v":33},{"c":"n14","d":42,"v":28},{"c":"n14","d":45,"v":34},{"c":"n14","d":48,"v":29},{"c":"n14","d":51,"v":25},{"c":"n14","d":54,"v":30},{"c":"n14","d":57,"v":26},{"c":"n14","d":60,"v":22},{"c":"n14","d":63,"v":26},{"c":"n14","d":66,"v":22},{"c":"n14","d":69,"v":19},{"c":"n14","d":72,"v":23},{"c":"n14","d":75,"v":20},
{"c":"n15","d":0,"v":11},{"c":"n15","d":3,"v":28},{"c":"n15","d":6,"v":60},{"c":"n15","d":9,"v":95},{"c":"n15","d":12,"v":140},{"c":"n15","d":15,"v":180},{"c":"n15","d":18,"v":220},{"c":"n15","d":21,"v":200},{"c":"n15","d":24,"v":240},{"c":"n15","d":27,"v":210},{"c":"n15","d":30,"v":180},{"c":"n15","d":33,"v":200},{"c":"n15","d":36,"v":170},{"c":"n15","d":39,"v":150},{"c":"n15","d":42,"v":165},{"c":"n15","d":45,"v":140},{"c":"n15","d":48,"v":120},{"c":"n15","d":51,"v":135},{"c":"n15","d":54,"v":115},{"c":"n15","d":57,"v":100},{"c":"n15","d":60,"v":115},{"c":"n15","d":63,"v":95},{"c":"n15","d":66,"v":85},{"c":"n15","d":69,"v":95},{"c":"n15","d":72,"v":80},{"c":"n15","d":75,"v":70},
{"c":"n16","d":0,"v":10},{"c":"n16","d":4,"v":12},{"c":"n16","d":8,"v":15},{"c":"n16","d":12,"v":19},{"c":"n16","d":16,"v":17},{"c":"n16","d":20,"v":21},{"c":"n16","d":24,"v":25},{"c":"n16","d":28,"v":22},{"c":"n16","d":32,"v":27},{"c":"n16","d":36,"v":24},{"c":"n16","d":40,"v":29},{"c":"n16","d":44,"v":26},{"c":"n16","d":48,"v":23},{"c":"n16","d":52,"v":28},{"c":"n16","d":56,"v":34},{"c":"n16","d":60,"v":30},{"c":"n16","d":64,"v":37},{"c":"n16","d":68,"v":45},{"c":"n16","d":72,"v":40},{"c":"n16","d":76,"v":50},{"c":"n16","d":80,"v":60},{"c":"n16","d":84,"v":55},{"c":"n16","d":88,"v":66},{"c":"n16","d":92,"v":60},{"c":"n16","d":96,"v":55},{"c":"n16","d":100,"v":62},
{"c":"n17","d":0,"v":10},{"c":"n17","d":3,"v":18},{"c":"n17","d":6,"v":32},{"c":"n17","d":9,"v":48},{"c":"n17","d":12,"v":42},{"c":"n17","d":15,"v":58},{"c":"n17","d":18,"v":70},{"c":"n17","d":21,"v":62},{"c":"n17","d":24,"v":78},{"c":"n17","d":27,"v":68},{"c":"n17","d":30,"v":85},{"c":"n17","d":33,"v":75},{"c":"n17","d":36,"v":65},{"c":"n17","d":39,"v":75},{"c":"n17","d":42,"v":64},{"c":"n17","d":45,"v":55},{"c":"n17","d":48,"v":64},{"c":"n17","d":51,"v":55},{"c":"n17","d":54,"v":48},{"c":"n17","d":57,"v":56},{"c":"n17","d":60,"v":48},{"c":"n17","d":63,"v":42},{"c":"n17","d":66,"v":48},{"c":"n17","d":69,"v":40},{"c":"n17","d":72,"v":35},{"c":"n17","d":75,"v":40},{"c":"n17","d":78,"v":34},
{"c":"n18","d":0,"v":10},{"c":"n18","d":5,"v":13},{"c":"n18","d":10,"v":17},{"c":"n18","d":15,"v":22},{"c":"n18","d":20,"v":19},{"c":"n18","d":25,"v":24},{"c":"n18","d":30,"v":21},{"c":"n18","d":35,"v":17},{"c":"n18","d":40,"v":20},{"c":"n18","d":45,"v":16},{"c":"n18","d":50,"v":13},{"c":"n18","d":55,"v":15},{"c":"n18","d":60,"v":12},{"c":"n18","d":65,"v":14},{"c":"n18","d":70,"v":11},{"c":"n18","d":75,"v":13},
{"c":"n19","d":0,"v":10},{"c":"n19","d":3,"v":22},{"c":"n19","d":6,"v":42},{"c":"n19","d":9,"v":70},{"c":"n19","d":12,"v":100},{"c":"n19","d":15,"v":130},{"c":"n19","d":18,"v":160},{"c":"n19","d":21,"v":145},{"c":"n19","d":24,"v":180},{"c":"n19","d":27,"v":200},{"c":"n19","d":30,"v":175},{"c":"n19","d":33,"v":210},{"c":"n19","d":36,"v":190},{"c":"n19","d":39,"v":225},{"c":"n19","d":42,"v":200},{"c":"n19","d":45,"v":240},{"c":"n19","d":48,"v":215},{"c":"n19","d":51,"v":250},{"c":"n19","d":54,"v":225},{"c":"n19","d":57,"v":200},{"c":"n19","d":60,"v":230},{"c":"n19","d":63,"v":205},{"c":"n19","d":66,"v":185},{"c":"n19","d":69,"v":210},{"c":"n19","d":72,"v":190},{"c":"n19","d":75,"v":170},{"c":"n19","d":78,"v":190},{"c":"n19","d":81,"v":170},{"c":"n19","d":84,"v":155},
{"c":"n20","d":0,"v":10},{"c":"n20","d":3,"v":14},{"c":"n20","d":6,"v":20},{"c":"n20","d":9,"v":28},{"c":"n20","d":12,"v":36},{"c":"n20","d":15,"v":32},{"c":"n20","d":18,"v":42},{"c":"n20","d":21,"v":37},{"c":"n20","d":24,"v":48},{"c":"n20","d":27,"v":42},{"c":"n20","d":30,"v":55},{"c":"n20","d":33,"v":48},{"c":"n20","d":36,"v":62},{"c":"n20","d":39,"v":55},{"c":"n20","d":42,"v":48},{"c":"n20","d":45,"v":56},{"c":"n20","d":48,"v":50},{"c":"n20","d":51,"v":44},{"c":"n20","d":54,"v":52},{"c":"n20","d":57,"v":46},{"c":"n20","d":60,"v":40},{"c":"n20","d":63,"v":47},{"c":"n20","d":66,"v":42},{"c":"n20","d":69,"v":37},{"c":"n20","d":72,"v":44},{"c":"n20","d":75,"v":39},{"c":"n20","d":78,"v":35},{"c":"n20","d":81,"v":40},{"c":"n20","d":84,"v":36},{"c":"n20","d":87,"v":42},{"c":"n20","d":90,"v":38}
]},
"layer": [
{"transform": [{"filter": {"not": {"field": "c", "oneOf": ["Brazil","India","Iran","Pakistan","Mexico","Chile"]}}}],
 "mark": {"type": "line", "color": "#b5aca4", "strokeWidth": 1.3, "clip": true},
 "encoding": {
  "x": {"field": "d", "type": "quantitative", "scale": {"domain": [0, 120], "nice": false}, "axis": {"values": [20,40,60,80,100,120], "title": null, "grid": true}},
  "y": {"field": "v", "type": "quantitative", "scale": {"type": "log", "domain": [8.18, 31000], "nice": false}, "axis": {"values": [10,20,50,100,200,500,1000,2000,5000,10000,20000], "format": ",", "title": null, "grid": true}},
  "detail": {"field": "c"}
 }},
{"transform": [{"filter": {"field": "c", "oneOf": ["Brazil","India","Iran","Pakistan","Mexico","Chile"]}}],
 "mark": {"type": "line", "strokeWidth": 4, "clip": true, "strokeCap": "round", "strokeJoin": "round"},
 "encoding": {
  "x": {"field": "d", "type": "quantitative", "scale": {"domain": [0, 120], "nice": false}},
  "y": {"field": "v", "type": "quantitative", "scale": {"type": "log", "domain": [8.18, 31000], "nice": false}},
  "color": {"field": "c", "type": "nominal", "scale": {"domain": ["Brazil","India","Iran","Pakistan","Mexico","Chile"], "range": ["#0f5499","#ec5f8e","#98c35a","#2b96d4","#7a0b32","#d1364a"]}, "legend": null}
 }},
{"transform": [{"filter": {"field": "c", "oneOf": ["Brazil","India","Iran","Pakistan","Mexico","Chile"]}}, {"aggregate": [{"op": "argmax", "field": "d", "as": "last"}], "groupby": ["c"]}],
 "mark": {"type": "point", "filled": true, "size": 150, "opacity": 1},
 "encoding": {
  "x": {"field": "last.d", "type": "quantitative", "scale": {"domain": [0, 120], "nice": false}},
  "y": {"field": "last.v", "type": "quantitative", "scale": {"type": "log", "domain": [8.18, 31000], "nice": false}},
  "color": {"field": "c", "type": "nominal", "scale": {"domain": ["Brazil","India","Iran","Pakistan","Mexico","Chile"], "range": ["#0f5499","#ec5f8e","#98c35a","#2b96d4","#7a0b32","#d1364a"]}, "legend": null}
 }},
{"transform": [{"filter": {"field": "c", "equal": "Pakistan"}}, {"aggregate": [{"op": "argmax", "field": "d", "as": "last"}], "groupby": ["c"]}],
 "mark": {"type": "text", "align": "left", "baseline": "middle", "dx": 17, "dy": 1, "font": "Noto Sans", "fontSize": 21},
 "encoding": {
  "x": {"field": "last.d", "type": "quantitative", "scale": {"domain": [0, 120], "nice": false}},
  "y": {"field": "last.v", "type": "quantitative", "scale": {"type": "log", "domain": [8.18, 31000], "nice": false}},
  "text": {"field": "c"},
  "color": {"field": "c", "type": "nominal", "scale": {"domain": ["Brazil","India","Iran","Pakistan","Mexico","Chile"], "range": ["#0f5499","#ec5f8e","#98c35a","#2b96d4","#7a0b32","#d1364a"]}, "legend": null}
 }},
{"transform": [{"filter": {"field": "c", "oneOf": ["Brazil","India","Iran","Mexico","Chile"]}}, {"aggregate": [{"op": "argmax", "field": "d", "as": "last"}], "groupby": ["c"]}],
 "mark": {"type": "text", "align": "left", "baseline": "middle", "dx": 17, "dy": 1, "font": "Noto Sans", "fontSize": 21, "fill": "#fff1e5", "stroke": "#fff1e5", "strokeWidth": 5},
 "encoding": {
  "x": {"field": "last.d", "type": "quantitative", "scale": {"domain": [0, 120], "nice": false}},
  "y": {"field": "last.v", "type": "quantitative", "scale": {"type": "log", "domain": [8.18, 31000], "nice": false}},
  "text": {"field": "c"}
 }},
{"transform": [{"filter": {"field": "c", "oneOf": ["Brazil","India","Iran","Mexico","Chile"]}}, {"aggregate": [{"op": "argmax", "field": "d", "as": "last"}], "groupby": ["c"]}],
 "mark": {"type": "text", "align": "left", "baseline": "middle", "dx": 17, "dy": 1, "font": "Noto Sans", "fontSize": 21},
 "encoding": {
  "x": {"field": "last.d", "type": "quantitative", "scale": {"domain": [0, 120], "nice": false}},
  "y": {"field": "last.v", "type": "quantitative", "scale": {"type": "log", "domain": [8.18, 31000], "nice": false}},
  "text": {"field": "c"},
  "color": {"field": "c", "type": "nominal", "scale": {"domain": ["Brazil","India","Iran","Pakistan","Mexico","Chile"], "range": ["#0f5499","#ec5f8e","#98c35a","#2b96d4","#7a0b32","#d1364a"]}, "legend": null}
 }}
]
}
